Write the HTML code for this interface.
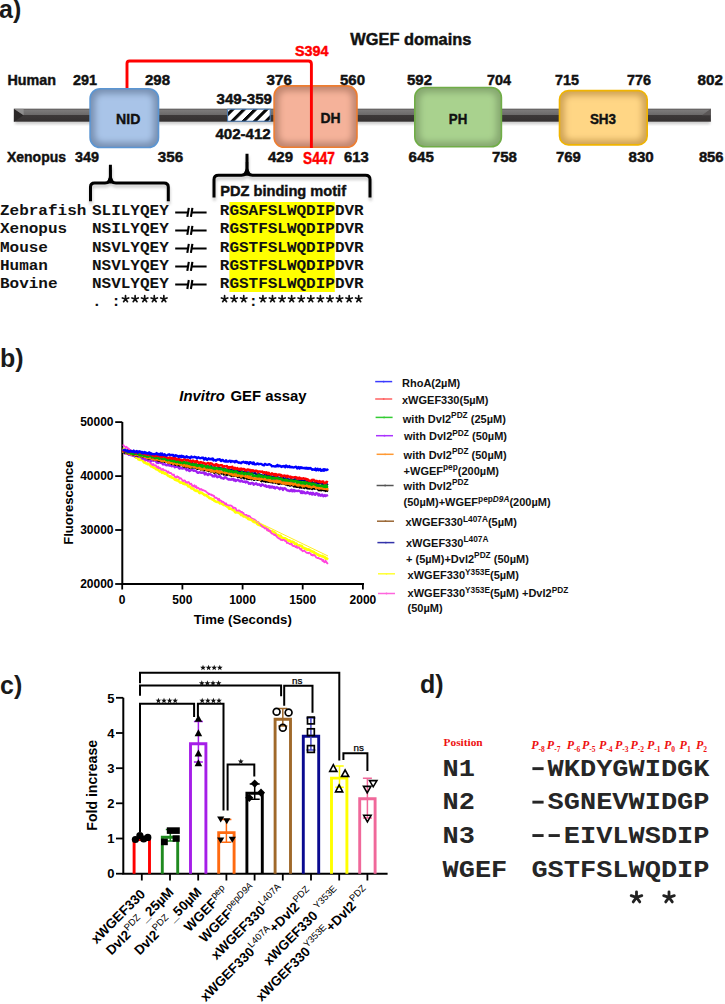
<!DOCTYPE html>
<html><head><meta charset="utf-8"><title>WGEF figure</title>
<style>html,body{margin:0;padding:0;background:#fff;overflow:hidden;}svg{display:block;}</style></head>
<body><svg width="725" height="1004" viewBox="0 0 725 1004">
<rect width="725" height="1004" fill="#fff"/>
<defs>
<linearGradient id="barg" x1="0" y1="0" x2="0" y2="1">
<stop offset="0" stop-color="#4a4747"/><stop offset="0.1" stop-color="#7c7a7a"/><stop offset="0.45" stop-color="#6c6a6a"/>
<stop offset="0.52" stop-color="#3c3838"/><stop offset="1" stop-color="#353131"/></linearGradient>
<filter id="blur3" x="-20%" y="-20%" width="140%" height="140%"><feGaussianBlur stdDeviation="3.2"/></filter>
<filter id="blur1" x="-20%" y="-50%" width="140%" height="200%"><feGaussianBlur stdDeviation="1.5"/></filter>
<pattern id="hatch" x="0.9" y="0" width="11.3" height="40" patternUnits="userSpaceOnUse" patternTransform="skewX(-45)">
<rect width="11.3" height="40" fill="#fff"/><rect width="4.4" height="40" fill="#0a0a0a"/></pattern>
</defs>
<rect x="15" y="120" width="695" height="4" fill="#bbb" filter="url(#blur1)" opacity="0.8"/>
<rect x="13.9" y="108.7" width="697" height="13" fill="url(#barg)"/>
<polygon points="13.9,108.7 23.6,115.3 13.9,121.7" fill="#2a2727"/>
<polygon points="13.9,108.7 23.6,115.3 23.6,108.7" fill="#9a9898" opacity="0.7"/>
<polygon points="710.9,108.7 702,115.3 710.9,115.3" fill="#5a5656"/>
<clipPath id="cp1"><rect x="90.10000000000001" y="88.7" width="68.39999999999999" height="58.800000000000004" rx="10"/></clipPath>
<g clip-path="url(#cp1)"><rect x="90.10000000000001" y="88.7" width="68.39999999999999" height="58.800000000000004" fill="#7890b2"/><rect x="95.10000000000001" y="93.7" width="58.39999999999999" height="48.800000000000004" rx="7" fill="#a9c4e8" filter="url(#blur3)"/></g>
<rect x="90.10000000000001" y="88.7" width="68.39999999999999" height="58.800000000000004" rx="10" fill="none" stroke="#5b95d2" stroke-width="1.6"/>
<rect x="227.6" y="109.2" width="42.6" height="12" fill="url(#hatch)" stroke="#4a7ebb" stroke-width="1"/>
<clipPath id="cp2"><rect x="274.09999999999997" y="85.9" width="82.89999999999999" height="61.4" rx="10"/></clipPath>
<g clip-path="url(#cp2)"><rect x="274.09999999999997" y="85.9" width="82.89999999999999" height="61.4" fill="#c08670"/><rect x="279.09999999999997" y="90.9" width="72.89999999999999" height="51.4" rx="7" fill="#f5b29a" filter="url(#blur3)"/></g>
<rect x="274.09999999999997" y="85.9" width="82.89999999999999" height="61.4" rx="10" fill="none" stroke="#ed7d31" stroke-width="1.6"/>
<clipPath id="cp3"><rect x="414.8" y="87.5" width="86.6" height="59.300000000000004" rx="10"/></clipPath>
<g clip-path="url(#cp3)"><rect x="414.8" y="87.5" width="86.6" height="59.300000000000004" fill="#86a870"/><rect x="419.8" y="92.5" width="76.6" height="49.300000000000004" rx="7" fill="#a9d28e" filter="url(#blur3)"/></g>
<rect x="414.8" y="87.5" width="86.6" height="59.300000000000004" rx="10" fill="none" stroke="#70ad47" stroke-width="1.6"/>
<clipPath id="cp4"><rect x="559.5" y="90.60000000000001" width="87.69999999999999" height="54.300000000000004" rx="9"/></clipPath>
<g clip-path="url(#cp4)"><rect x="559.5" y="90.60000000000001" width="87.69999999999999" height="54.300000000000004" fill="#cfa356"/><rect x="564.5" y="95.60000000000001" width="77.69999999999999" height="44.300000000000004" rx="6" fill="#ffd685" filter="url(#blur3)"/></g>
<rect x="559.5" y="90.60000000000001" width="87.69999999999999" height="54.300000000000004" rx="9" fill="none" stroke="#f0b400" stroke-width="1.6"/>
<path d="M127,88 L127,63.5 Q127,61 129.5,61 L308.5,61 Q311.4,61 311.4,64 L311.4,148" fill="none" stroke="#ff0000" stroke-width="2.9"/>
<text x="128.2" y="124.3" font-size="15" font-family="'Liberation Sans', sans-serif" font-weight="bold" fill="#111" text-anchor="middle" stroke="#111" stroke-width="0.4" textLength="24.3" lengthAdjust="spacingAndGlyphs">NID</text>
<text x="330.5" y="122.8" font-size="15" font-family="'Liberation Sans', sans-serif" font-weight="bold" fill="#111" text-anchor="middle" stroke="#111" stroke-width="0.4" textLength="20.1" lengthAdjust="spacingAndGlyphs">DH</text>
<text x="458" y="123.8" font-size="15" font-family="'Liberation Sans', sans-serif" font-weight="bold" fill="#111" text-anchor="middle" stroke="#111" stroke-width="0.4" textLength="18.5" lengthAdjust="spacingAndGlyphs">PH</text>
<text x="603" y="123.5" font-size="15" font-family="'Liberation Sans', sans-serif" font-weight="bold" fill="#111" text-anchor="middle" stroke="#111" stroke-width="0.4" textLength="26.2" lengthAdjust="spacingAndGlyphs">SH3</text>
<text x="350.3" y="44.7" font-size="16" font-family="'Liberation Sans', sans-serif" font-weight="bold" fill="#111" text-anchor="start" stroke="#111" stroke-width="0.45" textLength="121" lengthAdjust="spacingAndGlyphs">WGEF domains</text>
<text x="295" y="56.2" font-size="15.5" font-family="'Liberation Sans', sans-serif" font-weight="bold" fill="#ff0000" text-anchor="start" stroke="#ff0000" stroke-width="0.45" textLength="33.6" lengthAdjust="spacingAndGlyphs">S394</text>
<text x="303" y="164.2" font-size="16" font-family="'Liberation Sans', sans-serif" font-weight="bold" fill="#ff0000" text-anchor="start" stroke="#ff0000" stroke-width="0.45" textLength="32" lengthAdjust="spacingAndGlyphs">S447</text>
<text x="7.5" y="84.8" font-size="15" font-family="'Liberation Sans', sans-serif" font-weight="bold" fill="#111" text-anchor="start" stroke="#111" stroke-width="0.45" textLength="48.5" lengthAdjust="spacingAndGlyphs">Human</text>
<text x="73" y="84.8" font-size="15" font-family="'Liberation Sans', sans-serif" font-weight="bold" fill="#111" text-anchor="start" stroke="#111" stroke-width="0.45" textLength="24" lengthAdjust="spacingAndGlyphs">291</text>
<text x="145" y="84.8" font-size="15" font-family="'Liberation Sans', sans-serif" font-weight="bold" fill="#111" text-anchor="start" stroke="#111" stroke-width="0.45" textLength="25" lengthAdjust="spacingAndGlyphs">298</text>
<text x="266.6" y="84.8" font-size="15" font-family="'Liberation Sans', sans-serif" font-weight="bold" fill="#111" text-anchor="start" stroke="#111" stroke-width="0.45" textLength="25.399999999999977" lengthAdjust="spacingAndGlyphs">376</text>
<text x="340" y="84.8" font-size="15" font-family="'Liberation Sans', sans-serif" font-weight="bold" fill="#111" text-anchor="start" stroke="#111" stroke-width="0.45" textLength="25" lengthAdjust="spacingAndGlyphs">560</text>
<text x="407" y="84.8" font-size="15" font-family="'Liberation Sans', sans-serif" font-weight="bold" fill="#111" text-anchor="start" stroke="#111" stroke-width="0.45" textLength="25" lengthAdjust="spacingAndGlyphs">592</text>
<text x="487" y="84.8" font-size="15" font-family="'Liberation Sans', sans-serif" font-weight="bold" fill="#111" text-anchor="start" stroke="#111" stroke-width="0.45" textLength="24" lengthAdjust="spacingAndGlyphs">704</text>
<text x="555" y="84.8" font-size="15" font-family="'Liberation Sans', sans-serif" font-weight="bold" fill="#111" text-anchor="start" stroke="#111" stroke-width="0.45" textLength="24" lengthAdjust="spacingAndGlyphs">715</text>
<text x="627" y="84.8" font-size="15" font-family="'Liberation Sans', sans-serif" font-weight="bold" fill="#111" text-anchor="start" stroke="#111" stroke-width="0.45" textLength="24" lengthAdjust="spacingAndGlyphs">776</text>
<text x="697.6" y="84.8" font-size="15" font-family="'Liberation Sans', sans-serif" font-weight="bold" fill="#111" text-anchor="start" stroke="#111" stroke-width="0.45" textLength="25.399999999999977" lengthAdjust="spacingAndGlyphs">802</text>
<text x="7" y="161.8" font-size="15" font-family="'Liberation Sans', sans-serif" font-weight="bold" fill="#111" text-anchor="start" stroke="#111" stroke-width="0.45" textLength="59" lengthAdjust="spacingAndGlyphs">Xenopus</text>
<text x="75" y="161.8" font-size="15" font-family="'Liberation Sans', sans-serif" font-weight="bold" fill="#111" text-anchor="start" stroke="#111" stroke-width="0.45" textLength="24" lengthAdjust="spacingAndGlyphs">349</text>
<text x="157.8" y="161.8" font-size="15" font-family="'Liberation Sans', sans-serif" font-weight="bold" fill="#111" text-anchor="start" stroke="#111" stroke-width="0.45" textLength="25.399999999999977" lengthAdjust="spacingAndGlyphs">356</text>
<text x="268" y="161.8" font-size="15" font-family="'Liberation Sans', sans-serif" font-weight="bold" fill="#111" text-anchor="start" stroke="#111" stroke-width="0.45" textLength="25" lengthAdjust="spacingAndGlyphs">429</text>
<text x="344" y="161.8" font-size="15" font-family="'Liberation Sans', sans-serif" font-weight="bold" fill="#111" text-anchor="start" stroke="#111" stroke-width="0.45" textLength="24.69999999999999" lengthAdjust="spacingAndGlyphs">613</text>
<text x="408.6" y="161.8" font-size="15" font-family="'Liberation Sans', sans-serif" font-weight="bold" fill="#111" text-anchor="start" stroke="#111" stroke-width="0.45" textLength="25.19999999999999" lengthAdjust="spacingAndGlyphs">645</text>
<text x="491.9" y="161.8" font-size="15" font-family="'Liberation Sans', sans-serif" font-weight="bold" fill="#111" text-anchor="start" stroke="#111" stroke-width="0.45" textLength="25.100000000000023" lengthAdjust="spacingAndGlyphs">758</text>
<text x="556" y="161.8" font-size="15" font-family="'Liberation Sans', sans-serif" font-weight="bold" fill="#111" text-anchor="start" stroke="#111" stroke-width="0.45" textLength="24.899999999999977" lengthAdjust="spacingAndGlyphs">769</text>
<text x="628.5" y="161.8" font-size="15" font-family="'Liberation Sans', sans-serif" font-weight="bold" fill="#111" text-anchor="start" stroke="#111" stroke-width="0.45" textLength="25.200000000000045" lengthAdjust="spacingAndGlyphs">830</text>
<text x="698.9" y="161.8" font-size="15" font-family="'Liberation Sans', sans-serif" font-weight="bold" fill="#111" text-anchor="start" stroke="#111" stroke-width="0.45" textLength="24.700000000000045" lengthAdjust="spacingAndGlyphs">856</text>
<text x="216.5" y="104" font-size="15" font-family="'Liberation Sans', sans-serif" font-weight="bold" fill="#111" text-anchor="start" stroke="#111" stroke-width="0.45" textLength="55.5" lengthAdjust="spacingAndGlyphs">349-359</text>
<text x="215.4" y="139" font-size="15" font-family="'Liberation Sans', sans-serif" font-weight="bold" fill="#111" text-anchor="start" stroke="#111" stroke-width="0.45" textLength="55.3" lengthAdjust="spacingAndGlyphs">402-412</text>
<filter id="bshadow" x="-10%" y="-30%" width="120%" height="160%"><feGaussianBlur stdDeviation="1.6"/></filter>
<path d="M90.5,201.2 L90.5,187 Q90.5,183 94.5,183 L105,183 Q110.4,183 110.4,176 L110.4,164.7 L110.4,176 Q110.4,183 116,183 L164,183 Q168.3,183 168.3,187 L168.3,201.2" transform="translate(0.5,3)" fill="none" stroke="#999" stroke-width="3" opacity="0.55" filter="url(#bshadow)"/>
<path d="M90.5,201.2 L90.5,187 Q90.5,183 94.5,183 L105,183 Q110.4,183 110.4,176 L110.4,164.7 L110.4,176 Q110.4,183 116,183 L164,183 Q168.3,183 168.3,187 L168.3,201.2" fill="none" stroke="#000" stroke-width="3"/>
<path d="M214,197.5 L214,179.5 Q214,175.2 218.5,175.2 L241.5,175.2 Q247,175.2 247,168 L247,153.7 L247,168 Q247,175.2 252.5,175.2 L365.5,175.2 Q370,175.2 370,179.5 L370,197.5" transform="translate(0.5,3)" fill="none" stroke="#999" stroke-width="3" opacity="0.55" filter="url(#bshadow)"/>
<path d="M214,197.5 L214,179.5 Q214,175.2 218.5,175.2 L241.5,175.2 Q247,175.2 247,168 L247,153.7 L247,168 Q247,175.2 252.5,175.2 L365.5,175.2 Q370,175.2 370,179.5 L370,197.5" fill="none" stroke="#000" stroke-width="3"/>
<polygon points="106.5,183.5 109.2,177 109.2,170 111.6,170 111.6,177 114.3,183.5" fill="#000"/>
<polygon points="243,175.7 245.8,169 245.8,162 248.2,162 248.2,169 251,175.7" fill="#000"/>
<text x="220.3" y="196.4" font-size="15" font-family="'Liberation Sans', sans-serif" font-weight="bold" fill="#111" text-anchor="start" stroke="#111" stroke-width="0.45" textLength="125.7" lengthAdjust="spacingAndGlyphs">PDZ binding motif</text>
<rect x="229.4" y="202" width="105.4" height="90" fill="#ffff00"/>
<text transform="translate(0,215.4) scale(1,0.86)" x="0" y="0" font-size="16" font-family="'Liberation Mono', monospace" font-weight="bold" fill="#111" text-anchor="start">Zebrafish</text>
<text transform="translate(92,215.4) scale(1,0.86)" x="0" y="0" font-size="16" font-family="'Liberation Mono', monospace" font-weight="bold" fill="#111" text-anchor="start">SLILYQEY</text>
<text transform="translate(219.8,215.4) scale(1,0.86)" x="0" y="0" font-size="16" font-family="'Liberation Mono', monospace" font-weight="bold" fill="#111" text-anchor="start">RGSAFSLWQDIPDVR</text>
<path d="M175.2,212.4 L188.3,212.4 M191.6,212.4 L206.6,212.4" stroke="#000" stroke-width="2"/>
<line x1="187.3" y1="216.8" x2="188.8" y2="207.8" stroke="#000" stroke-width="2.1"/>
<line x1="190.9" y1="216.8" x2="192.4" y2="207.8" stroke="#000" stroke-width="2.1"/>
<text transform="translate(0,233.45000000000002) scale(1,0.86)" x="0" y="0" font-size="16" font-family="'Liberation Mono', monospace" font-weight="bold" fill="#111" text-anchor="start">Xenopus</text>
<text transform="translate(92,233.45000000000002) scale(1,0.86)" x="0" y="0" font-size="16" font-family="'Liberation Mono', monospace" font-weight="bold" fill="#111" text-anchor="start">NSILYQEY</text>
<text transform="translate(219.8,233.45000000000002) scale(1,0.86)" x="0" y="0" font-size="16" font-family="'Liberation Mono', monospace" font-weight="bold" fill="#111" text-anchor="start">RGSTFSLWQDIPDVR</text>
<path d="M175.2,230.45000000000002 L188.3,230.45000000000002 M191.6,230.45000000000002 L206.6,230.45000000000002" stroke="#000" stroke-width="2"/>
<line x1="187.3" y1="234.85000000000002" x2="188.8" y2="225.85000000000002" stroke="#000" stroke-width="2.1"/>
<line x1="190.9" y1="234.85000000000002" x2="192.4" y2="225.85000000000002" stroke="#000" stroke-width="2.1"/>
<text transform="translate(0,251.5) scale(1,0.86)" x="0" y="0" font-size="16" font-family="'Liberation Mono', monospace" font-weight="bold" fill="#111" text-anchor="start">Mouse</text>
<text transform="translate(92,251.5) scale(1,0.86)" x="0" y="0" font-size="16" font-family="'Liberation Mono', monospace" font-weight="bold" fill="#111" text-anchor="start">NSVLYQEY</text>
<text transform="translate(219.8,251.5) scale(1,0.86)" x="0" y="0" font-size="16" font-family="'Liberation Mono', monospace" font-weight="bold" fill="#111" text-anchor="start">RGSTFSLWQDIPDVR</text>
<path d="M175.2,248.5 L188.3,248.5 M191.6,248.5 L206.6,248.5" stroke="#000" stroke-width="2"/>
<line x1="187.3" y1="252.9" x2="188.8" y2="243.9" stroke="#000" stroke-width="2.1"/>
<line x1="190.9" y1="252.9" x2="192.4" y2="243.9" stroke="#000" stroke-width="2.1"/>
<text transform="translate(0,269.55) scale(1,0.86)" x="0" y="0" font-size="16" font-family="'Liberation Mono', monospace" font-weight="bold" fill="#111" text-anchor="start">Human</text>
<text transform="translate(92,269.55) scale(1,0.86)" x="0" y="0" font-size="16" font-family="'Liberation Mono', monospace" font-weight="bold" fill="#111" text-anchor="start">NSVLYQEY</text>
<text transform="translate(219.8,269.55) scale(1,0.86)" x="0" y="0" font-size="16" font-family="'Liberation Mono', monospace" font-weight="bold" fill="#111" text-anchor="start">RGSTFSLWQDIPDVR</text>
<path d="M175.2,266.55 L188.3,266.55 M191.6,266.55 L206.6,266.55" stroke="#000" stroke-width="2"/>
<line x1="187.3" y1="270.95" x2="188.8" y2="261.95" stroke="#000" stroke-width="2.1"/>
<line x1="190.9" y1="270.95" x2="192.4" y2="261.95" stroke="#000" stroke-width="2.1"/>
<text transform="translate(0,287.6) scale(1,0.86)" x="0" y="0" font-size="16" font-family="'Liberation Mono', monospace" font-weight="bold" fill="#111" text-anchor="start">Bovine</text>
<text transform="translate(92,287.6) scale(1,0.86)" x="0" y="0" font-size="16" font-family="'Liberation Mono', monospace" font-weight="bold" fill="#111" text-anchor="start">NSVLYQEY</text>
<text transform="translate(219.8,287.6) scale(1,0.86)" x="0" y="0" font-size="16" font-family="'Liberation Mono', monospace" font-weight="bold" fill="#111" text-anchor="start">RGSTFSLWQDIPDVR</text>
<path d="M175.2,284.6 L188.3,284.6 M191.6,284.6 L206.6,284.6" stroke="#000" stroke-width="2"/>
<line x1="187.3" y1="289.0" x2="188.8" y2="280.0" stroke="#000" stroke-width="2.1"/>
<line x1="190.9" y1="289.0" x2="192.4" y2="280.0" stroke="#000" stroke-width="2.1"/>
<text transform="translate(92,306) scale(1,0.86)" x="0" y="0" font-size="16" font-family="'Liberation Mono', monospace" font-weight="bold" fill="#111" text-anchor="start" xml:space="preserve">. :     </text>
<text transform="translate(219.8,306) scale(1,0.86)" x="0" y="0" font-size="16" font-family="'Liberation Mono', monospace" font-weight="bold" fill="#111" text-anchor="start" xml:space="preserve">   :           </text>
<path d="M125.53,299.00 L125.53,295.70 M125.53,299.00 L128.67,297.98 M125.53,299.00 L127.47,301.67 M125.53,299.00 L123.59,301.67 M125.53,299.00 L122.39,297.98 " stroke="#111" stroke-width="1.7" stroke-linecap="round" fill="none"/>
<path d="M135.11,299.00 L135.11,295.70 M135.11,299.00 L138.25,297.98 M135.11,299.00 L137.05,301.67 M135.11,299.00 L133.17,301.67 M135.11,299.00 L131.97,297.98 " stroke="#111" stroke-width="1.7" stroke-linecap="round" fill="none"/>
<path d="M144.69,299.00 L144.69,295.70 M144.69,299.00 L147.83,297.98 M144.69,299.00 L146.63,301.67 M144.69,299.00 L142.75,301.67 M144.69,299.00 L141.55,297.98 " stroke="#111" stroke-width="1.7" stroke-linecap="round" fill="none"/>
<path d="M154.27,299.00 L154.27,295.70 M154.27,299.00 L157.41,297.98 M154.27,299.00 L156.21,301.67 M154.27,299.00 L152.33,301.67 M154.27,299.00 L151.13,297.98 " stroke="#111" stroke-width="1.7" stroke-linecap="round" fill="none"/>
<path d="M163.85,299.00 L163.85,295.70 M163.85,299.00 L166.99,297.98 M163.85,299.00 L165.79,301.67 M163.85,299.00 L161.91,301.67 M163.85,299.00 L160.71,297.98 " stroke="#111" stroke-width="1.7" stroke-linecap="round" fill="none"/>
<path d="M224.59,299.00 L224.59,295.70 M224.59,299.00 L227.73,297.98 M224.59,299.00 L226.53,301.67 M224.59,299.00 L222.65,301.67 M224.59,299.00 L221.45,297.98 " stroke="#111" stroke-width="1.7" stroke-linecap="round" fill="none"/>
<path d="M234.17,299.00 L234.17,295.70 M234.17,299.00 L237.31,297.98 M234.17,299.00 L236.11,301.67 M234.17,299.00 L232.23,301.67 M234.17,299.00 L231.03,297.98 " stroke="#111" stroke-width="1.7" stroke-linecap="round" fill="none"/>
<path d="M243.75,299.00 L243.75,295.70 M243.75,299.00 L246.89,297.98 M243.75,299.00 L245.69,301.67 M243.75,299.00 L241.81,301.67 M243.75,299.00 L240.61,297.98 " stroke="#111" stroke-width="1.7" stroke-linecap="round" fill="none"/>
<path d="M262.91,299.00 L262.91,295.70 M262.91,299.00 L266.05,297.98 M262.91,299.00 L264.85,301.67 M262.91,299.00 L260.97,301.67 M262.91,299.00 L259.77,297.98 " stroke="#111" stroke-width="1.7" stroke-linecap="round" fill="none"/>
<path d="M272.49,299.00 L272.49,295.70 M272.49,299.00 L275.63,297.98 M272.49,299.00 L274.43,301.67 M272.49,299.00 L270.55,301.67 M272.49,299.00 L269.35,297.98 " stroke="#111" stroke-width="1.7" stroke-linecap="round" fill="none"/>
<path d="M282.07,299.00 L282.07,295.70 M282.07,299.00 L285.21,297.98 M282.07,299.00 L284.01,301.67 M282.07,299.00 L280.13,301.67 M282.07,299.00 L278.93,297.98 " stroke="#111" stroke-width="1.7" stroke-linecap="round" fill="none"/>
<path d="M291.65,299.00 L291.65,295.70 M291.65,299.00 L294.79,297.98 M291.65,299.00 L293.59,301.67 M291.65,299.00 L289.71,301.67 M291.65,299.00 L288.51,297.98 " stroke="#111" stroke-width="1.7" stroke-linecap="round" fill="none"/>
<path d="M301.23,299.00 L301.23,295.70 M301.23,299.00 L304.37,297.98 M301.23,299.00 L303.17,301.67 M301.23,299.00 L299.29,301.67 M301.23,299.00 L298.09,297.98 " stroke="#111" stroke-width="1.7" stroke-linecap="round" fill="none"/>
<path d="M310.81,299.00 L310.81,295.70 M310.81,299.00 L313.95,297.98 M310.81,299.00 L312.75,301.67 M310.81,299.00 L308.87,301.67 M310.81,299.00 L307.67,297.98 " stroke="#111" stroke-width="1.7" stroke-linecap="round" fill="none"/>
<path d="M320.39,299.00 L320.39,295.70 M320.39,299.00 L323.53,297.98 M320.39,299.00 L322.33,301.67 M320.39,299.00 L318.45,301.67 M320.39,299.00 L317.25,297.98 " stroke="#111" stroke-width="1.7" stroke-linecap="round" fill="none"/>
<path d="M329.97,299.00 L329.97,295.70 M329.97,299.00 L333.11,297.98 M329.97,299.00 L331.91,301.67 M329.97,299.00 L328.03,301.67 M329.97,299.00 L326.83,297.98 " stroke="#111" stroke-width="1.7" stroke-linecap="round" fill="none"/>
<path d="M339.55,299.00 L339.55,295.70 M339.55,299.00 L342.69,297.98 M339.55,299.00 L341.49,301.67 M339.55,299.00 L337.61,301.67 M339.55,299.00 L336.41,297.98 " stroke="#111" stroke-width="1.7" stroke-linecap="round" fill="none"/>
<path d="M349.13,299.00 L349.13,295.70 M349.13,299.00 L352.27,297.98 M349.13,299.00 L351.07,301.67 M349.13,299.00 L347.19,301.67 M349.13,299.00 L345.99,297.98 " stroke="#111" stroke-width="1.7" stroke-linecap="round" fill="none"/>
<path d="M358.71,299.00 L358.71,295.70 M358.71,299.00 L361.85,297.98 M358.71,299.00 L360.65,301.67 M358.71,299.00 L356.77,301.67 M358.71,299.00 L355.57,297.98 " stroke="#111" stroke-width="1.7" stroke-linecap="round" fill="none"/>
<text x="-1" y="18.2" font-size="25" font-family="'Liberation Sans', sans-serif" font-weight="bold" fill="#1a1a1a" text-anchor="start">a)</text>
<text x="0" y="367" font-size="25" font-family="'Liberation Sans', sans-serif" font-weight="bold" fill="#1a1a1a" text-anchor="start">b)</text>
<text x="0" y="693.5" font-size="25" font-family="'Liberation Sans', sans-serif" font-weight="bold" fill="#1a1a1a" text-anchor="start">c)</text>
<text x="420" y="692.8" font-size="25" font-family="'Liberation Sans', sans-serif" font-weight="bold" fill="#1a1a1a" text-anchor="start">d)</text>
<text x="179.3" y="401.3" font-size="15" font-family="'Liberation Sans', sans-serif" font-weight="bold" fill="#000" text-anchor="start" textLength="45.5" lengthAdjust="spacingAndGlyphs" font-style="italic">Invitro</text>
<text x="230.4" y="401.3" font-size="15" font-family="'Liberation Sans', sans-serif" font-weight="bold" fill="#000" text-anchor="start" textLength="76.2" lengthAdjust="spacingAndGlyphs">GEF assay</text>
<path d="M122.3,422.1 L122.3,584 L364,584" fill="none" stroke="#000" stroke-width="2"/>
<line x1="115.2" y1="584.0" x2="122.3" y2="584.0" stroke="#000" stroke-width="1.8"/>
<text x="113.5" y="588.3" font-size="12" font-family="'Liberation Sans', sans-serif" font-weight="bold" fill="#000" text-anchor="end">20000</text>
<line x1="115.2" y1="530.0" x2="122.3" y2="530.0" stroke="#000" stroke-width="1.8"/>
<text x="113.5" y="534.3299999999999" font-size="12" font-family="'Liberation Sans', sans-serif" font-weight="bold" fill="#000" text-anchor="end">30000</text>
<line x1="115.2" y1="476.1" x2="122.3" y2="476.1" stroke="#000" stroke-width="1.8"/>
<text x="113.5" y="480.36" font-size="12" font-family="'Liberation Sans', sans-serif" font-weight="bold" fill="#000" text-anchor="end">40000</text>
<line x1="115.2" y1="422.1" x2="122.3" y2="422.1" stroke="#000" stroke-width="1.8"/>
<text x="113.5" y="426.39000000000004" font-size="12" font-family="'Liberation Sans', sans-serif" font-weight="bold" fill="#000" text-anchor="end">50000</text>
<line x1="122.2" y1="584" x2="122.2" y2="589.5" stroke="#000" stroke-width="1.8"/>
<text x="122.2" y="604.4" font-size="12" font-family="'Liberation Sans', sans-serif" font-weight="bold" fill="#000" text-anchor="middle">0</text>
<line x1="182.4" y1="584" x2="182.4" y2="589.5" stroke="#000" stroke-width="1.8"/>
<text x="182.375" y="604.4" font-size="12" font-family="'Liberation Sans', sans-serif" font-weight="bold" fill="#000" text-anchor="middle">500</text>
<line x1="242.6" y1="584" x2="242.6" y2="589.5" stroke="#000" stroke-width="1.8"/>
<text x="242.55" y="604.4" font-size="12" font-family="'Liberation Sans', sans-serif" font-weight="bold" fill="#000" text-anchor="middle">1000</text>
<line x1="302.7" y1="584" x2="302.7" y2="589.5" stroke="#000" stroke-width="1.8"/>
<text x="302.725" y="604.4" font-size="12" font-family="'Liberation Sans', sans-serif" font-weight="bold" fill="#000" text-anchor="middle">1500</text>
<line x1="362.9" y1="584" x2="362.9" y2="589.5" stroke="#000" stroke-width="1.8"/>
<text x="362.9" y="604.4" font-size="12" font-family="'Liberation Sans', sans-serif" font-weight="bold" fill="#000" text-anchor="middle">2000</text>
<text x="193.8" y="624.3" font-size="13" font-family="'Liberation Sans', sans-serif" font-weight="bold" fill="#000" text-anchor="start" textLength="98" lengthAdjust="spacingAndGlyphs">Time (Seconds)</text>
<text transform="translate(72.8,502.6) rotate(-90)" x="0" y="0" font-size="13" font-family="'Liberation Sans', sans-serif" font-weight="bold" text-anchor="middle" textLength="84.4" lengthAdjust="spacingAndGlyphs">Fluorescence</text>
<polyline points="122.6,448.7 123.4,448.9 124.2,450.2 125.0,449.7 125.8,451.0 126.5,451.2 127.3,451.1 128.1,452.3 128.9,452.1 129.7,453.2 130.5,453.1 131.3,453.6 132.1,454.6 132.9,455.7 133.7,455.1 134.4,455.7 135.2,456.8 136.0,457.8 136.8,457.7 137.6,457.9 138.4,459.3 139.2,458.3 140.0,460.0 140.8,459.6 141.6,459.8 142.3,460.3 143.1,461.1 143.9,462.4 144.7,461.8 145.5,462.9 146.3,463.5 147.1,463.5 147.9,464.3 148.7,464.0 149.5,464.5 150.2,465.2 151.0,466.4 151.8,466.4 152.6,466.6 153.4,467.5 154.2,467.7 155.0,467.9 155.8,469.1 156.6,469.4 157.4,469.1 158.1,470.0 158.9,470.4 159.7,471.4 160.5,471.5 161.3,471.3 162.1,472.8 162.9,471.8 163.7,472.8 164.5,473.7 165.3,473.2 166.1,474.1 166.8,473.9 167.6,475.3 168.4,475.9 169.2,476.0 170.0,476.9 170.8,476.4 171.6,477.5 172.4,477.7 173.2,478.1 173.9,478.4 174.7,479.4 175.5,480.0 176.3,479.7 177.1,480.4 177.9,479.9 178.7,481.3 179.5,481.7 180.3,482.6 181.1,482.8 181.8,482.4 182.6,482.9 183.4,483.8 184.2,483.2 185.0,484.3 185.8,484.3 186.6,484.6 187.4,485.0 188.2,486.5 189.0,485.9 189.8,486.6 190.5,487.2 191.3,488.4 192.1,487.6 192.9,488.6 193.7,489.2 194.5,490.1 195.3,490.5 196.1,491.0 196.9,490.4 197.6,491.1 198.4,491.4 199.2,492.7 200.0,493.2 200.8,492.4 201.6,492.8 202.4,493.4 203.2,493.8 204.0,494.6 204.8,495.2 205.6,495.1 206.3,495.1 207.1,496.2 207.9,496.6 208.7,497.3 209.5,498.3 210.3,498.3 211.1,498.5 211.9,499.1 212.7,499.6 213.4,499.0 214.2,500.8 215.0,501.0 215.8,501.6 216.6,501.9 217.4,501.7 218.2,502.1 219.0,502.1 219.8,503.3 220.6,502.8 221.3,503.3 222.1,503.9 222.9,504.3 223.7,505.0 224.5,504.9 225.3,505.3 226.1,505.9 226.9,506.3 227.7,507.1 228.5,507.0 229.2,508.8 230.0,508.8 230.8,508.5 231.6,509.1 232.4,509.6 233.2,510.1 234.0,510.1 234.8,511.7 235.6,512.4 236.4,511.9 237.1,512.4 237.9,512.2 238.7,512.6 239.5,513.4 240.3,513.7 241.1,515.1 241.9,514.4 242.7,514.6 243.5,516.5 244.3,516.3 245.1,516.1 245.8,517.1 246.6,516.7 247.4,518.0 248.2,519.1 249.0,519.3 249.8,519.5 250.6,519.2 251.4,519.9 252.2,520.0 252.9,521.4 253.7,521.4 254.5,522.3 255.3,522.0 256.1,522.3 256.9,523.6 257.7,524.4 258.5,524.6 259.3,525.0 260.1,525.4 260.9,525.7 261.6,525.4 262.4,526.3 263.2,526.4 264.0,526.4 264.8,526.8 265.6,527.6 266.4,528.1 267.2,529.2 268.0,530.1 268.8,529.7 269.5,530.9 270.3,531.4 271.1,531.8 271.9,531.3 272.7,531.5 273.5,532.0 274.3,532.4 275.1,532.8 275.9,533.9 276.6,534.8 277.4,535.2 278.2,535.0 279.0,535.7 279.8,536.4 280.6,535.7 281.4,537.0 282.2,537.8 283.0,538.0 283.8,538.3 284.5,538.3 285.3,538.2 286.1,539.5 286.9,539.2 287.7,540.3 288.5,541.0 289.3,540.4 290.1,540.8 290.9,542.1 291.7,542.1 292.4,541.6 293.2,541.9 294.0,542.3 294.8,543.9 295.6,544.1 296.4,543.5 297.2,544.9 298.0,545.6 298.8,545.4 299.6,545.3 300.4,546.0 301.1,545.7 301.9,545.9 302.7,547.8 303.5,547.7 304.3,547.9 305.1,548.9 305.9,548.5 306.7,549.6 307.5,549.9 308.2,549.3 309.0,549.7 309.8,550.2 310.6,550.5 311.4,551.4 312.2,551.3 313.0,551.9 313.8,551.8 314.6,553.5 315.4,553.0 316.1,553.5 316.9,554.1 317.7,555.0 318.5,554.6 319.3,555.8 320.1,555.5 320.9,555.9 321.7,556.3 322.5,555.9 323.3,556.9 324.0,556.9 324.8,557.0 325.6,558.6 326.4,558.0 327.2,558.9 328.0,559.7" fill="none" stroke="#ffff00" stroke-width="2.6" stroke-linejoin="round"/>
<polyline points="122.6,445.1 123.4,445.2 124.2,446.1 125.0,446.7 125.8,447.6 126.5,446.8 127.3,448.2 128.1,448.1 128.9,448.7 129.7,450.2 130.5,450.1 131.3,450.8 132.1,451.7 132.9,452.5 133.7,452.1 134.4,452.9 135.2,453.2 136.0,453.7 136.8,454.6 137.6,454.7 138.4,455.3 139.2,455.7 140.0,457.2 140.8,457.2 141.6,458.1 142.3,458.7 143.1,457.9 143.9,459.0 144.7,460.3 145.5,460.6 146.3,459.7 147.1,460.2 147.9,461.3 148.7,461.1 149.5,461.9 150.2,462.1 151.0,463.7 151.8,464.3 152.6,465.0 153.4,463.9 154.2,465.4 155.0,465.7 155.8,465.1 156.6,467.0 157.4,467.6 158.1,466.5 158.9,468.4 159.7,467.7 160.5,468.3 161.3,469.7 162.1,469.8 162.9,468.9 163.7,469.9 164.5,470.4 165.3,470.5 166.1,470.6 166.8,471.3 167.6,472.5 168.4,471.5 169.2,473.0 170.0,473.2 170.8,472.8 171.6,473.8 172.4,474.8 173.2,475.0 173.9,474.5 174.7,476.8 175.5,476.8 176.3,477.6 177.1,476.3 177.9,477.0 178.7,477.0 179.5,478.8 180.3,478.2 181.1,478.4 181.8,479.4 182.6,480.8 183.4,481.0 184.2,480.3 185.0,480.5 185.8,482.4 186.6,482.2 187.4,482.8 188.2,482.0 189.0,482.4 189.8,484.1 190.5,484.0 191.3,483.7 192.1,485.8 192.9,485.6 193.7,486.4 194.5,485.3 195.3,487.3 196.1,486.1 196.9,488.1 197.6,487.7 198.4,487.9 199.2,488.8 200.0,489.9 200.8,489.0 201.6,489.2 202.4,490.4 203.2,490.2 204.0,490.4 204.8,490.9 205.6,491.1 206.3,491.9 207.1,492.5 207.9,493.0 208.7,494.3 209.5,493.8 210.3,494.7 211.1,494.5 211.9,495.3 212.7,495.1 213.4,496.0 214.2,496.0 215.0,497.8 215.8,497.9 216.6,497.7 217.4,498.7 218.2,500.0 219.0,498.8 219.8,500.7 220.6,500.4 221.3,501.0 222.1,502.1 222.9,501.6 223.7,502.3 224.5,503.1 225.3,504.2 226.1,503.3 226.9,504.8 227.7,505.0 228.5,505.3 229.2,505.3 230.0,505.6 230.8,505.4 231.6,506.0 232.4,506.4 233.2,508.2 234.0,507.6 234.8,507.9 235.6,508.2 236.4,510.2 237.1,510.7 237.9,510.7 238.7,510.4 239.5,510.7 240.3,511.3 241.1,512.1 241.9,511.9 242.7,512.9 243.5,513.0 244.3,514.9 245.1,515.3 245.8,514.9 246.6,514.8 247.4,516.7 248.2,515.8 249.0,516.3 249.8,516.1 250.6,517.4 251.4,518.1 252.2,518.7 252.9,518.7 253.7,519.9 254.5,519.4 255.3,520.5 256.1,520.7 256.9,521.9 257.7,521.8 258.5,522.3 259.3,523.4 260.1,523.8 260.9,525.1 261.6,525.6 262.4,526.6 263.2,526.9 264.0,527.6 264.8,528.5 265.6,528.1 266.4,528.5 267.2,530.4 268.0,529.3 268.8,531.0 269.5,531.4 270.3,530.8 271.1,532.9 271.9,533.6 272.7,533.6 273.5,534.4 274.3,535.1 275.1,534.4 275.9,535.7 276.6,536.2 277.4,537.4 278.2,537.9 279.0,538.5 279.8,538.6 280.6,539.8 281.4,539.9 282.2,540.3 283.0,539.8 283.8,539.8 284.5,540.4 285.3,541.2 286.1,541.1 286.9,543.0 287.7,542.8 288.5,543.3 289.3,543.7 290.1,544.2 290.9,544.3 291.7,543.7 292.4,545.7 293.2,546.0 294.0,545.9 294.8,546.3 295.6,547.0 296.4,546.2 297.2,547.9 298.0,547.4 298.8,547.4 299.6,548.2 300.4,549.5 301.1,548.9 301.9,550.3 302.7,551.2 303.5,550.6 304.3,550.8 305.1,551.4 305.9,552.2 306.7,552.8 307.5,552.9 308.2,553.3 309.0,552.6 309.8,553.1 310.6,553.7 311.4,555.1 312.2,554.6 313.0,555.6 313.8,554.9 314.6,555.3 315.4,556.2 316.1,557.4 316.9,557.8 317.7,558.2 318.5,557.8 319.3,558.7 320.1,558.9 320.9,559.3 321.7,559.1 322.5,561.0 323.3,560.0 324.0,562.0 324.8,562.3 325.6,560.8 326.4,562.1 327.2,563.2 328.0,563.9" fill="none" stroke="#ff44dd" stroke-width="1.8" stroke-linejoin="round"/>
<polyline points="122.6,451.9 123.4,451.8 124.2,451.9 125.0,453.6 125.8,452.4 126.5,453.4 127.3,452.7 128.1,453.7 128.9,454.8 129.7,453.4 130.5,455.0 131.3,454.6 132.1,455.6 132.9,455.5 133.7,454.8 134.4,456.3 135.2,455.7 136.0,455.0 136.8,455.2 137.6,456.4 138.4,456.6 139.2,456.5 140.0,456.4 140.8,457.0 141.6,457.2 142.3,458.5 143.1,457.0 143.9,458.7 144.7,459.1 145.5,457.9 146.3,459.8 147.1,459.6 147.9,460.2 148.7,459.2 149.5,459.5 150.2,459.8 151.0,461.2 151.8,460.6 152.6,460.4 153.4,460.7 154.2,460.6 155.0,460.4 155.8,460.7 156.6,462.4 157.4,461.5 158.1,463.0 158.9,461.9 159.7,462.1 160.5,462.8 161.3,462.4 162.1,462.9 162.9,464.3 163.7,464.4 164.5,464.4 165.3,464.3 166.1,465.1 166.8,465.3 167.6,464.7 168.4,465.3 169.2,464.1 170.0,465.7 170.8,465.4 171.6,466.2 172.4,466.1 173.2,465.6 173.9,465.4 174.7,467.3 175.5,465.9 176.3,466.8 177.1,466.7 177.9,466.8 178.7,467.9 179.5,468.6 180.3,467.4 181.1,468.3 181.8,467.8 182.6,468.5 183.4,468.4 184.2,468.1 185.0,468.3 185.8,468.6 186.6,470.2 187.4,469.6 188.2,469.2 189.0,470.8 189.8,471.1 190.5,470.2 191.3,469.8 192.1,470.1 192.9,470.1 193.7,470.8 194.5,470.4 195.3,470.9 196.1,471.1 196.9,471.9 197.6,472.8 198.4,472.7 199.2,472.2 200.0,472.4 200.8,472.8 201.6,472.7 202.4,472.8 203.2,472.4 204.0,473.0 204.8,474.5 205.6,473.0 206.3,474.0 207.1,474.4 207.9,475.0 208.7,473.9 209.5,474.2 210.3,474.3 211.1,474.8 211.9,475.1 212.7,476.3 213.4,476.2 214.2,476.5 215.0,474.9 215.8,475.1 216.6,476.6 217.4,477.2 218.2,476.5 219.0,476.9 219.8,475.9 220.6,476.9 221.3,478.1 222.1,478.1 222.9,478.3 223.7,478.7 224.5,477.4 225.3,477.3 226.1,477.6 226.9,478.5 227.7,478.9 228.5,479.6 229.2,479.3 230.0,479.4 230.8,479.8 231.6,479.3 232.4,479.6 233.2,478.8 234.0,480.4 234.8,479.5 235.6,481.0 236.4,480.6 237.2,480.1 237.9,479.9 238.7,480.3 239.5,481.2 240.3,481.5 241.1,480.5 241.9,480.6 242.7,481.7 243.5,481.9 244.3,481.7 245.1,481.5 245.8,482.4 246.6,481.4 247.4,482.1 248.2,482.6 249.0,483.7 249.8,483.3 250.6,483.9 251.4,483.2 252.2,482.9 252.9,483.1 253.7,484.7 254.5,484.3 255.3,483.6 256.1,483.2 256.9,484.3 257.7,484.8 258.5,484.5 259.3,484.3 260.1,485.2 260.9,485.9 261.6,484.7 262.4,484.4 263.2,485.2 264.0,485.5 264.8,486.1 265.6,485.3 266.4,486.7 267.2,486.7 268.0,486.4 268.8,485.9 269.5,487.6 270.3,486.4 271.1,487.5 271.9,486.5 272.7,486.6 273.5,487.8 274.3,487.1 275.1,488.5 275.9,487.7 276.6,487.3 277.4,487.5 278.2,488.0 279.0,488.6 279.8,489.3 280.6,487.8 281.4,488.5 282.2,488.3 283.0,489.9 283.8,488.4 284.5,488.3 285.3,488.5 286.1,489.3 286.9,490.4 287.7,490.5 288.5,490.4 289.3,491.0 290.1,491.0 290.9,489.9 291.7,489.8 292.4,491.4 293.2,491.2 294.0,489.9 294.8,491.3 295.6,490.8 296.4,490.9 297.2,491.0 298.0,490.8 298.8,490.6 299.6,491.2 300.4,491.5 301.1,492.9 301.9,491.3 302.7,493.1 303.5,491.7 304.3,492.2 305.1,493.2 305.9,493.3 306.7,492.7 307.5,492.0 308.2,493.0 309.0,492.9 309.8,494.1 310.6,492.8 311.4,493.3 312.2,494.5 313.0,492.8 313.8,493.7 314.6,494.6 315.4,494.7 316.1,493.3 316.9,493.4 317.7,493.6 318.5,495.5 319.3,494.2 320.1,495.3 320.9,495.8 321.7,494.8 322.5,494.7 323.3,496.2 324.0,495.7 324.8,495.1 325.6,496.1 326.4,495.4 327.2,495.4 328.0,495.0" fill="none" stroke="#a020f0" stroke-width="2.4" stroke-linejoin="round"/>
<polyline points="122.6,452.0 123.4,452.5 124.2,452.1 125.0,452.9 125.8,451.5 126.5,452.0 127.3,452.7 128.1,453.7 128.9,453.9 129.7,453.1 130.5,453.1 131.3,453.6 132.1,453.9 132.9,454.9 133.7,453.7 134.4,455.0 135.2,455.1 136.0,455.5 136.8,455.6 137.6,455.5 138.4,455.2 139.2,455.3 140.0,455.6 140.8,456.5 141.6,455.5 142.3,455.9 143.1,457.1 143.9,456.3 144.7,456.2 145.5,456.3 146.3,457.5 147.1,457.2 147.9,458.6 148.7,458.6 149.5,459.0 150.2,457.9 151.0,457.7 151.8,458.0 152.6,458.9 153.4,459.4 154.2,459.1 155.0,458.9 155.8,459.5 156.6,460.0 157.4,460.3 158.1,460.6 158.9,461.0 159.7,460.8 160.5,460.0 161.3,461.5 162.1,460.7 162.9,461.4 163.7,461.2 164.5,462.0 165.3,461.2 166.1,461.5 166.8,461.7 167.6,461.7 168.4,463.2 169.2,462.8 170.0,462.5 170.8,462.8 171.6,464.1 172.4,463.4 173.2,463.1 173.9,464.3 174.7,464.2 175.5,464.9 176.3,463.5 177.1,464.4 177.9,465.2 178.7,465.4 179.5,465.7 180.3,464.3 181.1,464.9 181.8,464.7 182.6,465.0 183.4,466.6 184.2,466.1 185.0,466.9 185.8,466.0 186.6,467.1 187.4,466.5 188.2,466.3 189.0,467.4 189.8,467.9 190.5,466.6 191.3,467.6 192.1,467.8 192.9,467.3 193.7,467.7 194.5,467.4 195.3,467.7 196.1,468.0 196.9,468.8 197.6,469.0 198.4,468.4 199.2,468.2 200.0,468.9 200.8,469.7 201.6,469.0 202.4,469.4 203.2,469.3 204.0,470.6 204.8,470.3 205.6,469.6 206.3,469.8 207.1,470.5 207.9,470.9 208.7,471.2 209.5,470.4 210.3,470.7 211.1,471.8 211.9,471.4 212.7,471.4 213.4,471.6 214.2,472.9 215.0,471.9 215.8,472.5 216.6,472.3 217.4,472.5 218.2,473.5 219.0,473.9 219.8,472.9 220.6,472.7 221.3,473.8 222.1,473.0 222.9,472.8 223.7,474.6 224.5,473.9 225.3,474.7 226.1,474.2 226.9,475.2 227.7,474.5 228.5,474.2 229.2,474.0 230.0,475.2 230.8,475.5 231.6,476.1 232.4,474.8 233.2,475.9 234.0,475.6 234.8,475.9 235.6,475.4 236.4,475.8 237.2,476.4 237.9,477.3 238.7,475.9 239.5,476.8 240.3,477.5 241.1,477.9 241.9,476.7 242.7,476.7 243.5,478.3 244.3,478.5 245.1,477.8 245.8,477.1 246.6,478.8 247.4,478.0 248.2,479.1 249.0,478.7 249.8,479.2 250.6,478.1 251.4,479.4 252.2,478.5 252.9,479.0 253.7,479.9 254.5,480.0 255.3,479.0 256.1,479.2 256.9,479.7 257.7,480.0 258.5,479.9 259.3,479.6 260.1,479.9 260.9,480.9 261.6,481.4 262.4,480.0 263.2,481.0 264.0,481.5 264.8,480.4 265.6,481.9 266.4,480.8 267.2,481.8 268.0,481.8 268.8,482.1 269.5,481.6 270.3,482.0 271.1,482.4 271.9,482.2 272.7,482.8 273.5,482.5 274.3,482.6 275.1,482.0 275.9,483.2 276.6,483.1 277.4,482.8 278.2,483.9 279.0,484.0 279.8,483.6 280.6,483.2 281.4,483.8 282.2,483.3 283.0,483.5 283.8,484.1 284.5,483.7 285.3,484.4 286.1,484.7 286.9,483.9 287.7,485.1 288.5,484.3 289.3,485.5 290.1,485.8 290.9,485.4 291.7,484.7 292.4,485.6 293.2,485.5 294.0,486.7 294.8,485.3 295.6,486.7 296.4,487.1 297.2,486.8 298.0,487.0 298.8,486.0 299.6,487.6 300.4,486.8 301.1,487.8 301.9,487.8 302.7,486.6 303.5,487.8 304.3,488.2 305.1,486.7 305.9,487.4 306.7,488.2 307.5,487.3 308.2,488.7 309.0,487.7 309.8,488.8 310.6,487.7 311.4,488.5 312.2,489.3 313.0,488.2 313.8,488.4 314.6,488.9 315.4,488.7 316.1,488.3 316.9,488.7 317.7,488.7 318.5,490.3 319.3,489.9 320.1,490.4 320.9,489.2 321.7,490.4 322.5,489.3 323.3,490.2 324.0,490.5 324.8,490.1 325.6,491.1 326.4,490.7 327.2,490.8 328.0,491.5" fill="none" stroke="#000000" stroke-width="2.0" stroke-linejoin="round"/>
<polyline points="122.6,450.4 123.4,452.0 124.2,451.6 125.0,451.4 125.8,452.2 126.5,451.6 127.3,452.9 128.1,452.4 128.9,452.3 129.7,453.1 130.5,452.8 131.3,452.5 132.1,453.6 132.9,452.7 133.7,454.1 134.4,453.4 135.2,454.2 136.0,454.9 136.8,454.4 137.6,454.7 138.4,454.3 139.2,454.0 140.0,454.3 140.8,454.6 141.6,455.5 142.3,455.4 143.1,455.7 143.9,456.5 144.7,455.5 145.5,455.8 146.3,456.7 147.1,455.8 147.9,456.0 148.7,456.7 149.5,456.5 150.2,457.0 151.0,457.0 151.8,457.8 152.6,457.9 153.4,457.5 154.2,458.3 155.0,458.3 155.8,457.9 156.6,459.3 157.4,458.4 158.1,458.4 158.9,458.5 159.7,459.5 160.5,460.1 161.3,460.1 162.1,459.7 162.9,459.6 163.7,459.4 164.5,460.5 165.3,460.6 166.1,460.4 166.8,461.0 167.6,460.9 168.4,461.8 169.2,461.7 170.0,461.1 170.8,462.3 171.6,461.1 172.4,462.0 173.2,462.0 173.9,461.8 174.7,461.7 175.5,463.0 176.3,462.0 177.1,463.0 177.9,463.8 178.7,462.7 179.5,462.9 180.3,463.7 181.1,463.7 181.8,464.1 182.6,464.5 183.4,463.6 184.2,464.0 185.0,464.2 185.8,463.9 186.6,465.4 187.4,465.4 188.2,465.4 189.0,464.5 189.8,466.0 190.5,466.0 191.3,465.7 192.1,466.3 192.9,465.9 193.7,465.7 194.5,465.7 195.3,466.0 196.1,465.9 196.9,466.5 197.6,467.3 198.4,467.4 199.2,467.8 200.0,467.7 200.8,467.1 201.6,467.8 202.4,467.7 203.2,468.4 204.0,468.2 204.8,467.9 205.6,468.6 206.3,469.3 207.1,468.2 207.9,469.5 208.7,468.2 209.5,468.8 210.3,468.9 211.1,469.8 211.9,470.3 212.7,470.1 213.4,469.6 214.2,470.6 215.0,469.9 215.8,469.9 216.6,471.1 217.4,470.8 218.2,471.0 219.0,471.1 219.8,471.8 220.6,471.1 221.3,471.8 222.1,471.7 222.9,472.1 223.7,471.6 224.5,472.2 225.3,472.1 226.1,471.8 226.9,471.8 227.7,472.6 228.5,471.8 229.2,473.3 230.0,472.2 230.8,472.2 231.6,472.4 232.4,473.9 233.2,473.1 234.0,472.9 234.8,472.8 235.6,473.0 236.4,474.2 237.2,474.2 237.9,474.5 238.7,474.7 239.5,473.7 240.3,474.7 241.1,474.5 241.9,475.3 242.7,475.4 243.5,475.7 244.3,474.5 245.1,475.9 245.8,476.1 246.6,476.3 247.4,475.1 248.2,475.4 249.0,475.4 249.8,475.4 250.6,476.8 251.4,476.9 252.2,476.7 252.9,477.1 253.7,477.0 254.5,476.5 255.3,476.4 256.1,476.5 256.9,477.7 257.7,476.9 258.5,477.2 259.3,477.5 260.1,477.0 260.9,477.5 261.6,477.7 262.4,478.5 263.2,478.0 264.0,478.1 264.8,479.2 265.6,478.6 266.4,479.3 267.2,479.1 268.0,478.2 268.8,479.0 269.5,479.1 270.3,479.8 271.1,479.2 271.9,479.9 272.7,479.8 273.5,479.4 274.3,480.5 275.1,479.4 275.9,480.7 276.6,479.8 277.4,479.6 278.2,480.1 279.0,481.1 279.8,481.6 280.6,480.1 281.4,481.0 282.2,481.1 283.0,481.7 283.8,480.9 284.5,481.5 285.3,481.4 286.1,482.3 286.9,481.5 287.7,482.7 288.5,481.7 289.3,481.7 290.1,482.6 290.9,482.4 291.7,481.9 292.4,482.9 293.2,482.1 294.0,483.3 294.8,483.3 295.6,483.6 296.4,483.4 297.2,483.1 298.0,483.3 298.8,483.4 299.6,484.3 300.4,483.1 301.1,484.5 301.9,483.2 302.7,483.6 303.5,483.8 304.3,485.0 305.1,484.4 305.9,484.3 306.7,485.3 307.5,484.3 308.2,484.8 309.0,485.0 309.8,485.5 310.6,485.6 311.4,485.5 312.2,485.2 313.0,485.2 313.8,485.1 314.6,486.3 315.4,486.1 316.1,486.3 316.9,485.5 317.7,486.0 318.5,486.7 319.3,486.5 320.1,485.9 320.9,486.5 321.7,487.3 322.5,486.4 323.3,486.4 324.0,486.7 324.8,487.4 325.6,487.7 326.4,486.7 327.2,486.8 328.0,487.1" fill="none" stroke="#996633" stroke-width="2.0" stroke-linejoin="round"/>
<polyline points="122.6,451.2 123.4,451.7 124.2,451.2 125.0,451.7 125.8,451.6 126.5,453.4 127.3,453.1 128.1,452.0 128.9,453.9 129.7,452.4 130.5,453.2 131.3,454.6 132.1,454.4 132.9,454.4 133.7,454.0 134.4,453.7 135.2,454.8 136.0,453.9 136.8,454.3 137.6,454.8 138.4,454.3 139.2,455.2 140.0,456.2 140.8,456.2 141.6,456.0 142.3,456.4 143.1,456.3 143.9,455.8 144.7,456.9 145.5,456.7 146.3,457.5 147.1,458.1 147.9,457.3 148.7,457.7 149.5,458.3 150.2,457.8 151.0,457.6 151.8,458.7 152.6,459.2 153.4,459.2 154.2,459.2 155.0,459.7 155.8,459.5 156.6,459.6 157.4,459.4 158.1,459.3 158.9,460.1 159.7,459.2 160.5,460.1 161.3,461.0 162.1,461.0 162.9,461.0 163.7,460.4 164.5,460.9 165.3,461.1 166.1,461.7 166.8,461.4 167.6,462.1 168.4,462.8 169.2,461.4 170.0,462.6 170.8,463.0 171.6,462.4 172.4,462.7 173.2,463.9 173.9,462.2 174.7,463.3 175.5,462.7 176.3,464.1 177.1,464.6 177.9,463.9 178.7,463.3 179.5,464.4 180.3,464.5 181.1,465.0 181.8,464.7 182.6,465.1 183.4,465.7 184.2,465.2 185.0,465.2 185.8,466.4 186.6,465.1 187.4,466.2 188.2,465.8 189.0,466.7 189.8,465.5 190.5,467.4 191.3,466.3 192.1,465.9 192.9,466.5 193.7,466.9 194.5,466.3 195.3,467.2 196.1,467.4 196.9,468.1 197.6,467.6 198.4,467.5 199.2,467.6 200.0,468.8 200.8,469.4 201.6,468.7 202.4,468.2 203.2,469.5 204.0,468.9 204.8,468.7 205.6,468.6 206.3,470.1 207.1,470.3 207.9,470.1 208.7,469.9 209.5,470.3 210.3,469.7 211.1,471.4 211.9,470.3 212.7,471.0 213.4,471.5 214.2,471.7 215.0,471.1 215.8,470.9 216.6,471.6 217.4,470.9 218.2,472.4 219.0,471.6 219.8,472.7 220.6,471.7 221.3,472.1 222.1,472.0 222.9,472.5 223.7,472.1 224.5,471.9 225.3,473.5 226.1,472.7 226.9,472.8 227.7,473.1 228.5,473.6 229.2,473.6 230.0,474.2 230.8,474.3 231.6,473.9 232.4,475.2 233.2,475.2 234.0,473.7 234.8,475.4 235.6,475.7 236.4,475.6 237.2,474.4 237.9,475.9 238.7,475.7 239.5,474.6 240.3,474.7 241.1,476.7 241.9,476.3 242.7,475.6 243.5,475.4 244.3,475.6 245.1,476.0 245.8,477.2 246.6,476.5 247.4,476.2 248.2,477.8 249.0,477.7 249.8,476.6 250.6,478.2 251.4,477.8 252.2,478.3 252.9,478.2 253.7,478.7 254.5,478.7 255.3,478.9 256.1,477.7 256.9,478.9 257.7,478.7 258.5,479.2 259.3,478.7 260.1,479.8 260.9,479.2 261.6,478.8 262.4,478.8 263.2,478.8 264.0,479.6 264.8,478.9 265.6,479.8 266.4,479.3 267.2,480.1 268.0,480.3 268.8,480.5 269.5,481.2 270.3,479.6 271.1,481.4 271.9,480.8 272.7,481.1 273.5,481.5 274.3,481.9 275.1,481.1 275.9,481.3 276.6,482.5 277.4,480.9 278.2,482.1 279.0,482.3 279.8,481.2 280.6,482.4 281.4,482.7 282.2,483.3 283.0,482.2 283.8,483.7 284.5,482.8 285.3,482.9 286.1,483.9 286.9,482.3 287.7,483.7 288.5,483.7 289.3,483.2 290.1,484.4 290.9,483.5 291.7,483.8 292.4,484.1 293.2,484.7 294.0,483.7 294.8,484.2 295.6,484.3 296.4,484.7 297.2,485.4 298.0,484.4 298.8,485.6 299.6,484.9 300.4,485.2 301.1,484.8 301.9,485.4 302.7,486.5 303.5,485.9 304.3,486.3 305.1,485.5 305.9,485.6 306.7,485.7 307.5,486.4 308.2,486.6 309.0,487.0 309.8,485.6 310.6,487.1 311.4,487.5 312.2,486.9 313.0,486.1 313.8,486.7 314.6,486.2 315.4,486.7 316.1,488.2 316.9,487.7 317.7,487.9 318.5,488.3 319.3,488.6 320.1,488.2 320.9,488.3 321.7,488.4 322.5,488.6 323.3,488.6 324.0,488.8 324.8,488.0 325.6,489.0 326.4,488.7 327.2,489.4 328.0,488.2" fill="none" stroke="#ff8000" stroke-width="2.4" stroke-linejoin="round"/>
<polyline points="122.6,450.5 123.4,450.4 124.2,451.7 125.0,452.1 125.8,451.8 126.5,451.5 127.3,452.4 128.1,452.5 128.9,452.3 129.7,451.9 130.5,452.2 131.3,452.5 132.1,452.5 132.9,452.8 133.7,453.3 134.4,453.9 135.2,452.7 136.0,453.6 136.8,452.9 137.6,453.2 138.4,454.4 139.2,454.2 140.0,454.9 140.8,454.3 141.6,453.8 142.3,454.5 143.1,455.0 143.9,455.7 144.7,455.9 145.5,455.2 146.3,455.3 147.1,454.9 147.9,455.9 148.7,455.4 149.5,455.4 150.2,455.3 151.0,455.5 151.8,456.7 152.6,455.9 153.4,457.4 154.2,456.2 155.0,457.6 155.8,456.5 156.6,456.5 157.4,457.7 158.1,457.1 158.9,458.1 159.7,457.3 160.5,457.2 161.3,458.5 162.1,458.6 162.9,459.0 163.7,458.9 164.5,458.0 165.3,459.0 166.1,459.3 166.8,459.0 167.6,459.9 168.4,459.0 169.2,460.2 170.0,460.0 170.8,459.0 171.6,459.1 172.4,460.3 173.2,460.7 173.9,459.7 174.7,460.2 175.5,461.0 176.3,460.2 177.1,461.5 177.9,461.0 178.7,460.5 179.5,461.1 180.3,461.6 181.1,461.5 181.8,462.0 182.6,461.3 183.4,462.5 184.2,461.9 185.0,462.5 185.8,462.6 186.6,462.4 187.4,462.5 188.2,463.3 189.0,463.7 189.8,463.5 190.5,463.3 191.3,463.0 192.1,462.8 192.9,464.4 193.7,464.1 194.5,464.4 195.3,463.7 196.1,464.3 196.9,465.0 197.6,464.9 198.4,464.7 199.2,464.4 200.0,464.7 200.8,465.6 201.6,464.9 202.4,465.5 203.2,465.5 204.0,466.1 204.8,466.1 205.6,465.4 206.3,465.1 207.1,465.6 207.9,466.0 208.7,466.4 209.5,466.9 210.3,467.2 211.1,465.9 211.9,467.3 212.7,467.4 213.4,467.6 214.2,467.3 215.0,467.0 215.8,468.0 216.6,468.1 217.4,468.0 218.2,468.5 219.0,467.7 219.8,467.4 220.6,468.3 221.3,468.8 222.1,468.0 222.9,469.0 223.7,469.4 224.5,468.4 225.3,469.2 226.1,469.4 226.9,469.2 227.7,468.9 228.5,469.1 229.2,470.0 230.0,470.2 230.8,469.8 231.6,469.4 232.4,470.6 233.2,470.7 234.0,470.0 234.8,470.7 235.6,471.3 236.4,471.4 237.2,470.9 237.9,471.0 238.7,471.3 239.5,470.8 240.3,470.9 241.1,471.0 241.9,472.0 242.7,471.6 243.5,472.0 244.3,471.9 245.1,472.2 245.8,471.7 246.6,471.7 247.4,473.3 248.2,472.5 249.0,472.2 249.8,473.1 250.6,473.5 251.4,472.6 252.2,473.4 252.9,473.2 253.7,473.6 254.5,472.9 255.3,473.0 256.1,474.7 256.9,474.6 257.7,474.1 258.5,474.4 259.3,474.0 260.1,475.0 260.9,474.5 261.6,475.5 262.4,475.3 263.2,475.5 264.0,475.9 264.8,474.8 265.6,474.6 266.4,475.0 267.2,475.1 268.0,475.1 268.8,475.1 269.5,476.1 270.3,476.7 271.1,476.1 271.9,477.0 272.7,477.1 273.5,475.9 274.3,476.8 275.1,476.6 275.9,476.3 276.6,477.8 277.4,476.8 278.2,477.4 279.0,477.6 279.8,478.2 280.6,477.9 281.4,477.6 282.2,477.8 283.0,477.4 283.8,478.9 284.5,479.0 285.3,477.9 286.1,477.7 286.9,478.2 287.7,478.5 288.5,479.5 289.3,479.6 290.1,479.6 290.9,478.4 291.7,479.7 292.4,479.7 293.2,479.7 294.0,480.4 294.8,479.0 295.6,479.3 296.4,480.4 297.2,480.8 298.0,480.5 298.8,480.0 299.6,480.6 300.4,481.0 301.1,480.0 301.9,480.5 302.7,480.5 303.5,480.4 304.3,481.1 305.1,480.7 305.9,480.9 306.7,480.9 307.5,481.9 308.2,480.9 309.0,482.2 309.8,481.4 310.6,481.3 311.4,482.8 312.2,481.8 313.0,483.1 313.8,483.1 314.6,483.2 315.4,482.1 316.1,482.7 316.9,482.3 317.7,483.7 318.5,483.7 319.3,483.5 320.1,483.3 320.9,483.2 321.7,484.1 322.5,483.7 323.3,484.0 324.0,483.4 324.8,483.6 325.6,483.5 326.4,484.6 327.2,484.5 328.0,483.9" fill="none" stroke="#00008b" stroke-width="2.0" stroke-linejoin="round"/>
<polyline points="122.6,451.7 123.4,450.7 124.2,451.1 125.0,450.8 125.8,451.2 126.5,452.5 127.3,451.6 128.1,451.4 128.9,452.2 129.7,452.1 130.5,453.4 131.3,452.0 132.1,453.8 132.9,452.2 133.7,454.0 134.4,453.7 135.2,452.9 136.0,453.6 136.8,453.4 137.6,453.5 138.4,453.5 139.2,454.0 140.0,455.4 140.8,455.6 141.6,455.6 142.3,454.1 143.1,454.6 143.9,456.0 144.7,454.5 145.5,456.0 146.3,455.2 147.1,456.8 147.9,455.0 148.7,456.7 149.5,456.0 150.2,455.7 151.0,455.6 151.8,457.4 152.6,456.9 153.4,456.4 154.2,457.0 155.0,458.2 155.8,456.9 156.6,457.8 157.4,457.1 158.1,457.3 158.9,458.6 159.7,458.7 160.5,457.8 161.3,457.7 162.1,457.9 162.9,459.0 163.7,459.0 164.5,458.7 165.3,458.7 166.1,459.6 166.8,460.0 167.6,460.3 168.4,460.0 169.2,459.4 170.0,459.3 170.8,460.8 171.6,460.3 172.4,461.0 173.2,459.9 173.9,461.5 174.7,460.7 175.5,461.9 176.3,462.1 177.1,461.5 177.9,460.7 178.7,462.6 179.5,461.9 180.3,462.8 181.1,461.7 181.8,461.7 182.6,463.2 183.4,462.4 184.2,462.1 185.0,462.7 185.8,463.3 186.6,462.2 187.4,463.4 188.2,463.4 189.0,463.7 189.8,463.0 190.5,464.4 191.3,464.7 192.1,465.0 192.9,464.0 193.7,464.9 194.5,464.4 195.3,465.3 196.1,464.1 196.9,465.8 197.6,466.1 198.4,465.4 199.2,465.5 200.0,465.7 200.8,465.9 201.6,465.0 202.4,467.0 203.2,465.7 204.0,465.7 204.8,465.7 205.6,466.1 206.3,467.4 207.1,466.0 207.9,466.2 208.7,467.6 209.5,466.7 210.3,466.5 211.1,467.8 211.9,467.9 212.7,467.9 213.4,468.4 214.2,467.4 215.0,469.0 215.8,468.9 216.6,467.7 217.4,468.0 218.2,468.8 219.0,469.0 219.8,468.7 220.6,468.5 221.3,469.2 222.1,468.8 222.9,469.9 223.7,470.5 224.5,469.2 225.3,470.2 226.1,470.7 226.9,469.7 227.7,471.1 228.5,471.5 229.2,470.5 230.0,470.7 230.8,471.7 231.6,471.2 232.4,471.1 233.2,472.3 234.0,472.1 234.8,471.4 235.6,471.3 236.4,471.6 237.2,472.0 237.9,473.2 238.7,473.0 239.5,473.3 240.3,473.3 241.1,473.5 241.9,472.0 242.7,473.1 243.5,474.1 244.3,474.2 245.1,472.9 245.8,473.4 246.6,474.0 247.4,473.6 248.2,474.0 249.0,473.2 249.8,474.1 250.6,474.4 251.4,473.5 252.2,473.9 252.9,475.7 253.7,475.4 254.5,475.9 255.3,475.4 256.1,475.9 256.9,476.2 257.7,476.3 258.5,474.7 259.3,476.1 260.1,475.4 260.9,476.4 261.6,475.7 262.4,476.4 263.2,477.3 264.0,476.8 264.8,476.2 265.6,476.9 266.4,476.8 267.2,478.0 268.0,476.8 268.8,476.9 269.5,477.8 270.3,476.8 271.1,477.9 271.9,478.7 272.7,478.0 273.5,477.6 274.3,478.2 275.1,478.4 275.9,477.8 276.6,477.8 277.4,478.0 278.2,478.4 279.0,478.8 279.8,478.7 280.6,478.7 281.4,478.5 282.2,479.6 283.0,480.3 283.8,479.9 284.5,480.0 285.3,480.3 286.1,479.5 286.9,480.6 287.7,480.3 288.5,480.6 289.3,480.8 290.1,480.7 290.9,480.5 291.7,480.5 292.4,480.5 293.2,481.2 294.0,481.1 294.8,481.6 295.6,480.6 296.4,481.4 297.2,482.6 298.0,481.4 298.8,482.2 299.6,482.2 300.4,481.9 301.1,483.4 301.9,482.2 302.7,483.2 303.5,482.1 304.3,482.1 305.1,483.8 305.9,483.0 306.7,482.4 307.5,483.2 308.2,483.4 309.0,484.1 309.8,483.0 310.6,483.3 311.4,484.9 312.2,484.6 313.0,483.6 313.8,484.0 314.6,484.2 315.4,485.0 316.1,485.0 316.9,485.5 317.7,485.6 318.5,485.1 319.3,485.7 320.1,485.8 320.9,486.0 321.7,485.5 322.5,486.2 323.3,486.2 324.0,486.7 324.8,485.3 325.6,486.9 326.4,485.3 327.2,486.9 328.0,486.7" fill="none" stroke="#00b000" stroke-width="2.4" stroke-linejoin="round"/>
<polyline points="122.6,450.0 123.4,451.1 124.2,450.4 125.0,450.2 125.8,451.1 126.5,451.4 127.3,451.0 128.1,450.6 128.9,450.9 129.7,451.1 130.5,451.7 131.3,451.0 132.1,451.3 132.9,451.8 133.7,451.5 134.4,451.5 135.2,452.6 136.0,452.9 136.8,452.3 137.6,452.3 138.4,451.9 139.2,452.3 140.0,452.1 140.8,453.1 141.6,453.2 142.3,452.3 143.1,454.1 143.9,453.1 144.7,454.2 145.5,454.4 146.3,454.7 147.1,453.3 147.9,453.9 148.7,455.0 149.5,453.3 150.2,453.5 151.0,454.7 151.8,454.7 152.6,455.7 153.4,455.5 154.2,455.2 155.0,456.2 155.8,455.4 156.6,455.5 157.4,456.0 158.1,455.5 158.9,455.6 159.7,456.2 160.5,455.8 161.3,457.1 162.1,456.7 162.9,456.5 163.7,455.8 164.5,456.5 165.3,456.7 166.1,457.1 166.8,457.3 167.6,458.0 168.4,458.3 169.2,457.5 170.0,457.5 170.8,458.0 171.6,458.9 172.4,457.7 173.2,458.2 173.9,458.9 174.7,457.7 175.5,458.1 176.3,459.6 177.1,459.4 177.9,458.9 178.7,458.2 179.5,459.9 180.3,459.6 181.1,460.0 181.8,460.5 182.6,460.4 183.4,459.6 184.2,459.2 185.0,459.6 185.8,460.2 186.6,460.3 187.4,459.8 188.2,459.9 189.0,460.9 189.8,461.0 190.5,460.6 191.3,462.0 192.1,461.4 192.9,460.4 193.7,461.2 194.5,462.1 195.3,461.3 196.1,462.2 196.9,460.9 197.6,461.7 198.4,462.9 199.2,462.5 200.0,462.8 200.8,462.0 201.6,462.7 202.4,462.9 203.2,462.5 204.0,463.4 204.8,463.3 205.6,464.3 206.3,463.6 207.1,463.4 207.9,463.0 208.7,463.1 209.5,464.5 210.3,463.3 211.1,463.4 211.9,463.7 212.7,464.5 213.4,465.2 214.2,464.9 215.0,465.5 215.8,464.1 216.6,464.1 217.4,465.8 218.2,465.0 219.0,465.9 219.8,465.3 220.6,465.1 221.3,465.4 222.1,465.2 222.9,466.9 223.7,466.4 224.5,466.1 225.3,466.4 226.1,466.4 226.9,465.9 227.7,467.7 228.5,467.2 229.2,468.1 230.0,467.1 230.8,467.6 231.6,467.0 232.4,466.7 233.2,468.6 234.0,468.6 234.8,467.7 235.6,468.9 236.4,468.9 237.2,468.0 237.9,468.7 238.7,469.6 239.5,468.8 240.3,469.8 241.1,468.5 241.9,468.9 242.7,469.7 243.5,468.9 244.3,469.2 245.1,470.4 245.8,469.8 246.6,470.5 247.4,469.5 248.2,469.5 249.0,470.0 249.8,469.8 250.6,471.5 251.4,470.3 252.2,470.9 252.9,470.2 253.7,471.1 254.5,471.0 255.3,471.1 256.1,470.6 256.9,470.8 257.7,472.4 258.5,471.5 259.3,471.4 260.1,471.5 260.9,471.8 261.6,471.8 262.4,471.5 263.2,472.9 264.0,472.4 264.8,472.2 265.6,473.4 266.4,472.3 267.2,472.8 268.0,474.0 268.8,472.7 269.5,473.5 270.3,474.4 271.1,474.5 271.9,473.3 272.7,473.8 273.5,474.7 274.3,474.1 275.1,475.4 275.9,474.0 276.6,475.7 277.4,474.9 278.2,474.5 279.0,475.0 279.8,474.5 280.6,475.8 281.4,475.0 282.2,476.4 283.0,475.9 283.8,475.6 284.5,475.5 285.3,476.4 286.1,475.7 286.9,477.1 287.7,475.8 288.5,476.7 289.3,476.9 290.1,476.4 290.9,477.6 291.7,476.9 292.4,477.6 293.2,477.6 294.0,477.2 294.8,477.4 295.6,477.0 296.4,477.3 297.2,478.8 298.0,477.8 298.8,478.6 299.6,477.6 300.4,478.7 301.1,478.4 301.9,478.8 302.7,478.5 303.5,478.2 304.3,478.8 305.1,478.8 305.9,478.7 306.7,480.0 307.5,479.3 308.2,479.6 309.0,480.8 309.8,480.6 310.6,481.0 311.4,481.1 312.2,479.7 313.0,480.1 313.8,479.8 314.6,481.2 315.4,481.3 316.1,480.8 316.9,481.0 317.7,481.7 318.5,481.9 319.3,481.1 320.1,482.4 320.9,481.6 321.7,482.2 322.5,481.5 323.3,481.5 324.0,483.2 324.8,483.0 325.6,483.0 326.4,481.8 327.2,482.0 328.0,482.3" fill="none" stroke="#ff0000" stroke-width="2.4" stroke-linejoin="round"/>
<polyline points="122.6,449.9 123.4,450.2 124.2,450.4 125.0,449.8 125.8,450.4 126.5,451.2 127.3,450.3 128.1,451.7 128.9,451.3 129.7,451.7 130.5,450.8 131.3,451.3 132.1,451.8 132.9,451.2 133.7,450.6 134.4,452.4 135.2,452.3 136.0,451.4 136.8,451.0 137.6,452.7 138.4,452.3 139.2,451.3 140.0,451.8 140.8,451.6 141.6,453.0 142.3,451.9 143.1,453.4 143.9,453.2 144.7,451.9 145.5,453.2 146.3,452.7 147.1,453.5 147.9,453.7 148.7,452.7 149.5,452.4 150.2,454.2 151.0,453.2 151.8,454.3 152.6,453.9 153.4,454.1 154.2,454.4 155.0,454.0 155.8,453.8 156.6,453.1 157.4,454.4 158.1,454.0 158.9,454.2 159.7,455.1 160.5,453.6 161.3,454.9 162.1,453.6 162.9,455.0 163.7,455.3 164.5,454.3 165.3,454.9 166.1,455.8 166.8,455.3 167.6,455.1 168.4,454.6 169.2,454.3 170.0,455.0 170.8,455.2 171.6,454.9 172.4,455.2 173.2,454.9 173.9,456.1 174.7,456.1 175.5,455.3 176.3,455.4 177.1,456.0 177.9,456.0 178.7,457.0 179.5,455.9 180.3,455.9 181.1,457.2 181.8,455.8 182.6,456.7 183.4,456.3 184.2,457.3 185.0,456.9 185.8,457.4 186.6,456.3 187.4,457.4 188.2,457.3 189.0,457.1 189.8,457.8 190.5,458.0 191.3,456.6 192.1,457.1 192.9,457.3 193.7,457.1 194.5,456.8 195.3,457.4 196.1,457.3 196.9,458.4 197.6,457.9 198.4,457.3 199.2,457.8 200.0,458.2 200.8,458.1 201.6,457.8 202.4,457.7 203.2,457.6 204.0,459.6 204.8,459.2 205.6,458.0 206.3,459.3 207.1,459.9 207.9,459.2 208.7,458.3 209.5,459.2 210.3,459.2 211.1,458.7 211.9,459.5 212.7,458.5 213.4,460.4 214.2,460.0 215.0,460.0 215.8,460.7 216.6,460.2 217.4,459.5 218.2,459.5 219.0,459.4 219.8,459.3 220.6,460.8 221.3,461.0 222.1,460.0 222.9,459.9 223.7,460.9 224.5,461.4 225.3,461.6 226.1,460.2 226.9,461.5 227.7,461.6 228.5,461.5 229.2,460.8 230.0,460.6 230.8,461.9 231.6,461.0 232.4,461.2 233.2,461.6 234.0,461.3 234.8,462.3 235.6,461.2 236.4,460.9 237.2,462.0 237.9,462.2 238.7,462.7 239.5,462.5 240.3,463.0 241.1,463.2 241.9,462.3 242.7,462.4 243.5,461.8 244.3,462.2 245.1,462.8 245.8,461.9 246.6,463.2 247.4,462.2 248.2,462.9 249.0,464.0 249.8,462.3 250.6,462.3 251.4,463.2 252.2,462.7 252.9,463.9 253.7,462.5 254.5,464.3 255.3,464.4 256.1,464.3 256.9,463.7 257.7,463.4 258.5,464.3 259.3,464.1 260.1,463.9 260.9,463.9 261.6,464.1 262.4,464.7 263.2,465.1 264.0,465.3 264.8,463.9 265.6,464.2 266.4,464.6 267.2,464.9 268.0,464.6 268.8,464.3 269.5,464.2 270.3,464.7 271.1,465.1 271.9,466.2 272.7,466.1 273.5,466.1 274.3,466.4 275.1,466.5 275.9,465.9 276.6,466.3 277.4,464.9 278.2,466.2 279.0,466.1 279.8,465.6 280.6,466.2 281.4,467.0 282.2,466.2 283.0,466.6 283.8,466.0 284.5,466.1 285.3,467.3 286.1,465.6 286.9,466.0 287.7,467.1 288.5,466.7 289.3,466.1 290.1,467.3 290.9,466.8 291.7,467.3 292.4,467.0 293.2,467.3 294.0,467.5 294.8,467.2 295.6,466.7 296.4,466.9 297.2,468.4 298.0,467.8 298.8,467.0 299.6,468.6 300.4,467.4 301.1,467.2 301.9,468.1 302.7,467.6 303.5,468.2 304.3,468.4 305.1,467.8 305.9,468.6 306.7,467.7 307.5,468.6 308.2,468.8 309.0,467.9 309.8,468.6 310.6,468.0 311.4,468.8 312.2,469.8 313.0,469.2 313.8,469.6 314.6,469.8 315.4,468.6 316.1,470.4 316.9,469.9 317.7,468.8 318.5,470.3 319.3,469.5 320.1,469.1 320.9,470.8 321.7,470.0 322.5,470.5 323.3,469.3 324.0,470.7 324.8,469.3 325.6,469.8 326.4,470.1 327.2,469.5 328.0,470.7" fill="none" stroke="#0000ff" stroke-width="2.4" stroke-linejoin="round"/>
<line x1="238" y1="512.5" x2="328" y2="556" stroke="#ffee22" stroke-width="1"/>
<line x1="375.2" y1="381.6" x2="392.2" y2="381.6" stroke="#3a3aff" stroke-width="1.5"/>
<circle cx="383.7" cy="381.6" r="0.9" fill="#3a3aff"/>
<text x="402" y="386.5" font-size="11" font-family="'Liberation Sans', sans-serif" font-weight="bold" fill="#111" text-anchor="start">RhoA(2µM)</text>
<line x1="375.2" y1="399.0" x2="392.2" y2="399.0" stroke="#ff6060" stroke-width="1.5"/>
<circle cx="383.7" cy="399.0" r="0.9" fill="#ff6060"/>
<text x="402" y="403.7" font-size="11" font-family="'Liberation Sans', sans-serif" font-weight="bold" fill="#111" text-anchor="start">xWGEF330(5µM)</text>
<line x1="375.6" y1="417.4" x2="392.6" y2="417.4" stroke="#33cc33" stroke-width="1.5"/>
<circle cx="384.1" cy="417.4" r="0.9" fill="#33cc33"/>
<text x="402.8" y="423" font-size="11" font-family="'Liberation Sans', sans-serif" font-weight="bold" fill="#111" text-anchor="start">with Dvl2<tspan font-size="8.3" dy="-4.6">PDZ</tspan><tspan dy="4.6"> (25µM)</tspan></text>
<line x1="376.0" y1="435.7" x2="393.0" y2="435.7" stroke="#aa33ff" stroke-width="1.5"/>
<circle cx="384.5" cy="435.7" r="0.9" fill="#aa33ff"/>
<text x="404" y="440.3" font-size="11" font-family="'Liberation Sans', sans-serif" font-weight="bold" fill="#111" text-anchor="start">with Dvl2<tspan font-size="8.3" dy="-4.6">PDZ</tspan><tspan dy="4.6"> (50µM)</tspan></text>
<line x1="376.6" y1="454.3" x2="393.6" y2="454.3" stroke="#ff9933" stroke-width="1.5"/>
<circle cx="385.1" cy="454.3" r="0.9" fill="#ff9933"/>
<text x="403.6" y="458.8" font-size="11" font-family="'Liberation Sans', sans-serif" font-weight="bold" fill="#111" text-anchor="start">with Dvl2<tspan font-size="8.3" dy="-4.6">PDZ</tspan><tspan dy="4.6"> (50µM)</tspan></text>
<text x="403.6" y="474.5" font-size="11" font-family="'Liberation Sans', sans-serif" font-weight="bold" fill="#111" text-anchor="start">+WGEF<tspan font-size="8.3" dy="-4.6">pep</tspan><tspan dy="4.6">(200µM)</tspan></text>
<line x1="376.6" y1="485.5" x2="393.6" y2="485.5" stroke="#555555" stroke-width="1.5"/>
<circle cx="385.1" cy="485.5" r="0.9" fill="#555555"/>
<text x="403.6" y="489.7" font-size="11" font-family="'Liberation Sans', sans-serif" font-weight="bold" fill="#111" text-anchor="start">with Dvl2<tspan font-size="8.3" dy="-4.6">PDZ</tspan></text>
<text x="403.6" y="506.2" font-size="11" font-family="'Liberation Sans', sans-serif" font-weight="bold" fill="#111" text-anchor="start">(50µM)+WGEF<tspan font-size="8.3" dy="-4.6">pep<tspan font-style="italic">D9A</tspan></tspan><tspan dy="4.6">(200µM)</tspan></text>
<line x1="377.0" y1="521.2" x2="394.0" y2="521.2" stroke="#996633" stroke-width="1.5"/>
<circle cx="385.5" cy="521.2" r="0.9" fill="#996633"/>
<text x="405.5" y="526.4" font-size="11" font-family="'Liberation Sans', sans-serif" font-weight="bold" fill="#111" text-anchor="start">xWGEF330<tspan font-size="8.3" dy="-4.6">L407A</tspan><tspan dy="4.6">(5µM)</tspan></text>
<line x1="377.4" y1="542.6" x2="394.4" y2="542.6" stroke="#3333aa" stroke-width="1.5"/>
<circle cx="385.9" cy="542.6" r="0.9" fill="#3333aa"/>
<text x="406" y="547" font-size="11" font-family="'Liberation Sans', sans-serif" font-weight="bold" fill="#111" text-anchor="start">xWGEF330<tspan font-size="8.3" dy="-4.6">L407A</tspan></text>
<text x="406" y="562.7" font-size="11" font-family="'Liberation Sans', sans-serif" font-weight="bold" fill="#111" text-anchor="start">+ (5µM)+Dvl2<tspan font-size="8.3" dy="-4.6">PDZ</tspan><tspan dy="4.6"> (50µM)</tspan></text>
<line x1="378.0" y1="573.8" x2="395.0" y2="573.8" stroke="#ffff33" stroke-width="1.5"/>
<circle cx="386.5" cy="573.8" r="0.9" fill="#ffff33"/>
<text x="407.6" y="579.2" font-size="11" font-family="'Liberation Sans', sans-serif" font-weight="bold" fill="#111" text-anchor="start">xWGEF330<tspan font-size="8.3" dy="-4.6">Y353E</tspan><tspan dy="4.6">(5µM)</tspan></text>
<line x1="378.0" y1="593.5" x2="395.0" y2="593.5" stroke="#ff66dd" stroke-width="1.5"/>
<circle cx="386.5" cy="593.5" r="0.9" fill="#ff66dd"/>
<text x="407.6" y="597.3" font-size="11" font-family="'Liberation Sans', sans-serif" font-weight="bold" fill="#111" text-anchor="start">xWGEF330<tspan font-size="8.3" dy="-4.6">Y353E</tspan><tspan dy="4.6">(5µM) +Dvl2</tspan><tspan font-size="8.3" dy="-4.6">PDZ</tspan></text>
<text x="407.6" y="611.9" font-size="11" font-family="'Liberation Sans', sans-serif" font-weight="bold" fill="#111" text-anchor="start">(50µM)</text>
<path d="M123.3,697.8 L123.3,873.7 L387.6,873.7" fill="none" stroke="#000" stroke-width="2"/>
<line x1="116" y1="873.7" x2="123.3" y2="873.7" stroke="#000" stroke-width="1.8"/>
<text x="114.6" y="878.4000000000001" font-size="13" font-family="'Liberation Sans', sans-serif" font-weight="bold" fill="#000" text-anchor="end">0</text>
<line x1="116" y1="838.5" x2="123.3" y2="838.5" stroke="#000" stroke-width="1.8"/>
<text x="114.6" y="843.2200000000001" font-size="13" font-family="'Liberation Sans', sans-serif" font-weight="bold" fill="#000" text-anchor="end">1</text>
<line x1="116" y1="803.3" x2="123.3" y2="803.3" stroke="#000" stroke-width="1.8"/>
<text x="114.6" y="808.0400000000001" font-size="13" font-family="'Liberation Sans', sans-serif" font-weight="bold" fill="#000" text-anchor="end">2</text>
<line x1="116" y1="768.2" x2="123.3" y2="768.2" stroke="#000" stroke-width="1.8"/>
<text x="114.6" y="772.8600000000001" font-size="13" font-family="'Liberation Sans', sans-serif" font-weight="bold" fill="#000" text-anchor="end">3</text>
<line x1="116" y1="733.0" x2="123.3" y2="733.0" stroke="#000" stroke-width="1.8"/>
<text x="114.6" y="737.6800000000001" font-size="13" font-family="'Liberation Sans', sans-serif" font-weight="bold" fill="#000" text-anchor="end">4</text>
<line x1="116" y1="697.8" x2="123.3" y2="697.8" stroke="#000" stroke-width="1.8"/>
<text x="114.6" y="702.5000000000001" font-size="13" font-family="'Liberation Sans', sans-serif" font-weight="bold" fill="#000" text-anchor="end">5</text>
<line x1="141.8" y1="873.7" x2="141.8" y2="880.5" stroke="#000" stroke-width="1.8"/>
<line x1="170.0" y1="873.7" x2="170.0" y2="880.5" stroke="#000" stroke-width="1.8"/>
<line x1="198.2" y1="873.7" x2="198.2" y2="880.5" stroke="#000" stroke-width="1.8"/>
<line x1="226.4" y1="873.7" x2="226.4" y2="880.5" stroke="#000" stroke-width="1.8"/>
<line x1="254.6" y1="873.7" x2="254.6" y2="880.5" stroke="#000" stroke-width="1.8"/>
<line x1="282.8" y1="873.7" x2="282.8" y2="880.5" stroke="#000" stroke-width="1.8"/>
<line x1="311.0" y1="873.7" x2="311.0" y2="880.5" stroke="#000" stroke-width="1.8"/>
<line x1="339.2" y1="873.7" x2="339.2" y2="880.5" stroke="#000" stroke-width="1.8"/>
<line x1="367.4" y1="873.7" x2="367.4" y2="880.5" stroke="#000" stroke-width="1.8"/>
<text transform="translate(97.4,785.3) rotate(-90)" x="0" y="0" font-size="14" font-family="'Liberation Sans', sans-serif" font-weight="bold" text-anchor="middle" textLength="90.8" lengthAdjust="spacingAndGlyphs">Fold increase</text>
<path d="M134.1,873.7 L134.1,839.5 L149.5,839.5 L149.5,873.7" fill="none" stroke="#ff0000" stroke-width="2.9"/>
<path d="M162.3,873.7 L162.3,837.2 L177.7,837.2 L177.7,873.7" fill="none" stroke="#1f8a1f" stroke-width="2.9"/>
<path d="M190.5,873.7 L190.5,743.7 L205.9,743.7 L205.9,873.7" fill="none" stroke="#a51ee8" stroke-width="2.9"/>
<path d="M218.7,873.7 L218.7,832.6 L234.1,832.6 L234.1,873.7" fill="none" stroke="#ff6a10" stroke-width="2.9"/>
<path d="M246.9,873.7 L246.9,793.2 L262.3,793.2 L262.3,873.7" fill="none" stroke="#000000" stroke-width="2.9"/>
<path d="M275.1,873.7 L275.1,719.2 L290.5,719.2 L290.5,873.7" fill="none" stroke="#a0692a" stroke-width="2.9"/>
<path d="M303.3,873.7 L303.3,736.2 L318.7,736.2 L318.7,873.7" fill="none" stroke="#0a0a90" stroke-width="2.9"/>
<path d="M331.5,873.7 L331.5,778.1 L346.9,778.1 L346.9,873.7" fill="none" stroke="#ffff00" stroke-width="2.9"/>
<path d="M359.7,873.7 L359.7,798.7 L375.1,798.7 L375.1,873.7" fill="none" stroke="#f0689a" stroke-width="2.9"/>
<path d="M140,683.2 L140,672.7 L339.3,672.7 L339.3,760.5" fill="none" stroke="#000" stroke-width="2"/>
<path d="M140,695.7 L140,685.6 L281.1,685.6 L281.1,696.2" fill="none" stroke="#000" stroke-width="2"/>
<path d="M140,832 L140,703.7 L194.1,703.7 L194.1,717" fill="none" stroke="#000" stroke-width="2"/>
<path d="M197.9,717 L197.9,703.7 L223.5,703.7 L223.5,810.5" fill="none" stroke="#000" stroke-width="2"/>
<path d="M227.6,810.5 L227.6,764.5 L254.3,764.5 L254.3,776.5" fill="none" stroke="#000" stroke-width="2"/>
<path d="M284.2,705.7 L284.2,685.8 L312.5,685.8 L312.5,712.8" fill="none" stroke="#000" stroke-width="2"/>
<path d="M343.4,759.9 L343.4,753.3 L367.4,753.3 L367.4,771.1" fill="none" stroke="#000" stroke-width="2"/>
<polygon points="203.00,664.80 203.76,666.75 205.85,666.87 204.24,668.20 204.76,670.23 203.00,669.10 201.24,670.23 201.76,668.20 200.15,666.87 202.24,666.75" fill="#111"/>
<polygon points="208.60,664.80 209.36,666.75 211.45,666.87 209.84,668.20 210.36,670.23 208.60,669.10 206.84,670.23 207.36,668.20 205.75,666.87 207.84,666.75" fill="#111"/>
<polygon points="214.20,664.80 214.96,666.75 217.05,666.87 215.44,668.20 215.96,670.23 214.20,669.10 212.44,670.23 212.96,668.20 211.35,666.87 213.44,666.75" fill="#111"/>
<polygon points="219.80,664.80 220.56,666.75 222.65,666.87 221.04,668.20 221.56,670.23 219.80,669.10 218.04,670.23 218.56,668.20 216.95,666.87 219.04,666.75" fill="#111"/>
<polygon points="201.80,680.30 202.56,682.25 204.65,682.37 203.04,683.70 203.56,685.73 201.80,684.60 200.04,685.73 200.56,683.70 198.95,682.37 201.04,682.25" fill="#111"/>
<polygon points="207.40,680.30 208.16,682.25 210.25,682.37 208.64,683.70 209.16,685.73 207.40,684.60 205.64,685.73 206.16,683.70 204.55,682.37 206.64,682.25" fill="#111"/>
<polygon points="213.00,680.30 213.76,682.25 215.85,682.37 214.24,683.70 214.76,685.73 213.00,684.60 211.24,685.73 211.76,683.70 210.15,682.37 212.24,682.25" fill="#111"/>
<polygon points="218.60,680.30 219.36,682.25 221.45,682.37 219.84,683.70 220.36,685.73 218.60,684.60 216.84,685.73 217.36,683.70 215.75,682.37 217.84,682.25" fill="#111"/>
<polygon points="158.40,697.70 159.16,699.65 161.25,699.77 159.64,701.10 160.16,703.13 158.40,702.00 156.64,703.13 157.16,701.10 155.55,699.77 157.64,699.65" fill="#111"/>
<polygon points="164.00,697.70 164.76,699.65 166.85,699.77 165.24,701.10 165.76,703.13 164.00,702.00 162.24,703.13 162.76,701.10 161.15,699.77 163.24,699.65" fill="#111"/>
<polygon points="169.60,697.70 170.36,699.65 172.45,699.77 170.84,701.10 171.36,703.13 169.60,702.00 167.84,703.13 168.36,701.10 166.75,699.77 168.84,699.65" fill="#111"/>
<polygon points="175.20,697.70 175.96,699.65 178.05,699.77 176.44,701.10 176.96,703.13 175.20,702.00 173.44,703.13 173.96,701.10 172.35,699.77 174.44,699.65" fill="#111"/>
<polygon points="202.20,697.70 202.96,699.65 205.05,699.77 203.44,701.10 203.96,703.13 202.20,702.00 200.44,703.13 200.96,701.10 199.35,699.77 201.44,699.65" fill="#111"/>
<polygon points="207.80,697.70 208.56,699.65 210.65,699.77 209.04,701.10 209.56,703.13 207.80,702.00 206.04,703.13 206.56,701.10 204.95,699.77 207.04,699.65" fill="#111"/>
<polygon points="213.40,697.70 214.16,699.65 216.25,699.77 214.64,701.10 215.16,703.13 213.40,702.00 211.64,703.13 212.16,701.10 210.55,699.77 212.64,699.65" fill="#111"/>
<polygon points="219.00,697.70 219.76,699.65 221.85,699.77 220.24,701.10 220.76,703.13 219.00,702.00 217.24,703.13 217.76,701.10 216.15,699.77 218.24,699.65" fill="#111"/>
<polygon points="240.80,758.50 241.56,760.45 243.65,760.57 242.04,761.90 242.56,763.93 240.80,762.80 239.04,763.93 239.56,761.90 237.95,760.57 240.04,760.45" fill="#111"/>
<text x="297.2" y="684" font-size="9.8" font-family="'Liberation Sans', sans-serif" font-weight="normal" fill="#000" text-anchor="middle" stroke="#000" stroke-width="0.25">ns</text>
<text x="358.7" y="750.8" font-size="9.8" font-family="'Liberation Sans', sans-serif" font-weight="normal" fill="#000" text-anchor="middle" stroke="#000" stroke-width="0.25">ns</text>
<path d="M165.8,829.5 L174.8,829.5 M170.3,829.5 L170.3,841 M165.8,841 L174.8,841" stroke="#1f8a1f" stroke-width="1.5" fill="none"/>
<path d="M193.9,721.4 L202.9,721.4 M198.4,721.4 L198.4,762 M193.9,762 L202.9,762" stroke="#a51ee8" stroke-width="1.5" fill="none"/>
<path d="M221.4,819.5 L231.4,819.5 M226.4,819.5 L226.4,842.2 M221.4,842.2 L231.4,842.2" stroke="#ff6a10" stroke-width="1.5" fill="none"/>
<path d="M249.7,784 L259.7,784 M254.7,784 L254.7,799.3 M249.7,799.3 L259.7,799.3" stroke="#000" stroke-width="1.5" fill="none"/>
<path d="M278.3,708.6 L287.3,708.6 M282.8,708.6 L282.8,726 M278.3,726 L287.3,726" stroke="#a0692a" stroke-width="1.5" fill="none"/>
<path d="M306.4,718 L315.4,718 M310.9,718 L310.9,750 M306.4,750 L315.4,750" stroke="#4a4ac8" stroke-width="1.5" fill="none"/>
<path d="M335.3,766.1 L343.7,766.1 M339.5,766.1 L339.5,787.2 M335.3,787.2 L343.7,787.2" stroke="#ffff00" stroke-width="1.5" fill="none"/>
<path d="M362.9,778.3 L371.9,778.3 M367.4,778.3 L367.4,818 M362.9,818 L371.9,818" stroke="#f0689a" stroke-width="1.5" fill="none"/>
<circle cx="135.4" cy="839.5" r="3.6" fill="#000"/>
<circle cx="139.9" cy="835.7" r="3.6" fill="#000"/>
<circle cx="143.7" cy="839" r="3.6" fill="#000"/>
<circle cx="147.8" cy="837.4" r="3.6" fill="#000"/>
<rect x="166.8" y="827.3" width="13" height="6.6" fill="#000"/>
<rect x="161" y="838.6" width="6.8" height="6.6" fill="#000"/>
<rect x="172.6" y="835.3" width="7.1" height="6.5" fill="#000"/>
<polygon points="198.4,714.8 202.20000000000002,721.8 194.6,721.8" fill="#000" stroke="none" stroke-width="0" stroke-linejoin="miter"/>
<polygon points="198.4,729.2 202.20000000000002,736.2 194.6,736.2" fill="#000" stroke="none" stroke-width="0" stroke-linejoin="miter"/>
<polygon points="198.4,749.5 202.20000000000002,756.5 194.6,756.5" fill="#000" stroke="none" stroke-width="0" stroke-linejoin="miter"/>
<polygon points="198.4,759.2 202.20000000000002,766.2 194.6,766.2" fill="#000" stroke="none" stroke-width="0" stroke-linejoin="miter"/>
<polygon points="217.1,816.5 224.29999999999998,816.5 220.7,822.5" fill="#000" stroke="none" stroke-width="0"/>
<polygon points="223.20000000000002,818.2 230.4,818.2 226.8,824.2" fill="#000" stroke="none" stroke-width="0"/>
<polygon points="217.1,837.6 224.29999999999998,837.6 220.7,843.6" fill="#000" stroke="none" stroke-width="0"/>
<polygon points="228.70000000000002,836.7 235.9,836.7 232.3,842.7" fill="#000" stroke="none" stroke-width="0"/>
<polygon points="254.7,779.5 258.8,783.6 254.7,787.7 250.6,783.6" fill="#000"/>
<polygon points="249.3,793.6999999999999 253.4,797.8 249.3,801.9 245.20000000000002,797.8" fill="#000"/>
<polygon points="261,788.6 265.1,792.7 261,796.8000000000001 256.9,792.7" fill="#000"/>
<circle cx="276.6" cy="711.7" r="3.4" fill="none" stroke="#000" stroke-width="1.7"/>
<circle cx="288.6" cy="712.5" r="3.4" fill="none" stroke="#000" stroke-width="1.7"/>
<circle cx="282.8" cy="727.7" r="3.4" fill="none" stroke="#000" stroke-width="1.7"/>
<rect x="307.5" y="717.1" width="6.8" height="6.8" fill="none" stroke="#000" stroke-width="1.7"/>
<rect x="307.5" y="728.8" width="6.8" height="6.8" fill="none" stroke="#000" stroke-width="1.7"/>
<rect x="307.5" y="745.6" width="6.8" height="6.8" fill="none" stroke="#000" stroke-width="1.7"/>
<polygon points="333.3,764.6 336.90000000000003,771.4 329.7,771.4" fill="none" stroke="#000" stroke-width="1.6" stroke-linejoin="miter"/>
<polygon points="345.1,770 348.70000000000005,776.4 341.5,776.4" fill="none" stroke="#000" stroke-width="1.6" stroke-linejoin="miter"/>
<polygon points="339.1,784.9 342.70000000000005,791.9 335.5,791.9" fill="none" stroke="#000" stroke-width="1.6" stroke-linejoin="miter"/>
<polygon points="369.5,780.6 376.9,780.6 373.2,786.8" fill="none" stroke="#000" stroke-width="1.6"/>
<polygon points="363.5,786.4 370.9,786.4 367.2,792.8" fill="none" stroke="#000" stroke-width="1.6"/>
<polygon points="363.7,815.3 371.09999999999997,815.3 367.4,821.8" fill="none" stroke="#000" stroke-width="1.6"/>
<text transform="translate(146.0,895.0) rotate(-45)" x="0" y="0" font-size="13.4" font-family="'Liberation Sans', sans-serif" font-weight="bold" text-anchor="end">xWGEF330</text>
<text transform="translate(174.3,893.0) rotate(-45)" x="0" y="0" font-size="13.4" font-family="'Liberation Sans', sans-serif" font-weight="bold" text-anchor="end">Dvl2<tspan font-size="9.4" font-weight="normal" dx="0.6" dy="-6">PDZ</tspan><tspan dy="6">_25µM</tspan></text>
<text transform="translate(202.5,893.0) rotate(-45)" x="0" y="0" font-size="13.4" font-family="'Liberation Sans', sans-serif" font-weight="bold" text-anchor="end">Dvl2<tspan font-size="9.4" font-weight="normal" dx="0.6" dy="-6">PDZ</tspan><tspan dy="6">_50µM</tspan></text>
<text transform="translate(229.5,892.5) rotate(-45)" x="0" y="0" font-size="13.4" font-family="'Liberation Sans', sans-serif" font-weight="bold" text-anchor="end">WGEF<tspan font-size="9.4" font-weight="normal" dx="0.6" dy="-6">pep</tspan></text>
<text transform="translate(257.5,890.5) rotate(-45)" x="0" y="0" font-size="13.4" font-family="'Liberation Sans', sans-serif" font-weight="bold" text-anchor="end">WGEF<tspan font-size="9.4" font-weight="normal" dx="0.6" dy="-6">pep<tspan font-style="italic">D9A</tspan></tspan></text>
<text transform="translate(285.5,891.5) rotate(-45)" x="0" y="0" font-size="13.4" font-family="'Liberation Sans', sans-serif" font-weight="bold" text-anchor="end">xWGEF330<tspan font-size="9.4" font-weight="normal" dx="0.6" dy="-6">L407A</tspan></text>
<text transform="translate(314.0,894.0) rotate(-45)" x="0" y="0" font-size="13.4" font-family="'Liberation Sans', sans-serif" font-weight="bold" text-anchor="end">xWGEF330<tspan font-size="9.4" font-weight="normal" dx="0.6" dy="-6">L407A</tspan><tspan dy="6">+Dvl2</tspan><tspan font-size="9.4" font-weight="normal" dx="0.6" dy="-6">PDZ</tspan></text>
<text transform="translate(341.5,893.5) rotate(-45)" x="0" y="0" font-size="13.4" font-family="'Liberation Sans', sans-serif" font-weight="bold" text-anchor="end">xWGEF330 <tspan font-size="9.4" font-weight="normal" dx="0.6" dy="-6">Y353E</tspan></text>
<text transform="translate(370.5,893.0) rotate(-45)" x="0" y="0" font-size="13.4" font-family="'Liberation Sans', sans-serif" font-weight="bold" text-anchor="end">xWGEF330<tspan font-size="9.4" font-weight="normal" dx="0.6" dy="-6">Y353E</tspan><tspan dy="6">+Dvl2</tspan><tspan font-size="9.4" font-weight="normal" dx="0.6" dy="-6">PDZ</tspan></text>
<text x="443.5" y="746.4" font-size="11.3" font-family="'Liberation Serif', serif" font-weight="bold" fill="#ee1111" text-anchor="start" textLength="39.2" lengthAdjust="spacingAndGlyphs">Position</text>
<text x="531.2" y="749.4" font-size="12" font-family="'Liberation Serif', serif" font-weight="bold" font-style="italic" fill="#ee1111">P<tspan font-size="7.5" font-style="normal" dy="2.2">-8</tspan></text>
<text x="546.8" y="749.4" font-size="12" font-family="'Liberation Serif', serif" font-weight="bold" font-style="italic" fill="#ee1111">P<tspan font-size="7.5" font-style="normal" dy="2.2">-7</tspan></text>
<text x="566.7" y="749.4" font-size="12" font-family="'Liberation Serif', serif" font-weight="bold" font-style="italic" fill="#ee1111">P<tspan font-size="7.5" font-style="normal" dy="2.2">-6</tspan></text>
<text x="582" y="749.4" font-size="12" font-family="'Liberation Serif', serif" font-weight="bold" font-style="italic" fill="#ee1111">P<tspan font-size="7.5" font-style="normal" dy="2.2">-5</tspan></text>
<text x="599" y="749.4" font-size="12" font-family="'Liberation Serif', serif" font-weight="bold" font-style="italic" fill="#ee1111">P<tspan font-size="7.5" font-style="normal" dy="2.2">-4</tspan></text>
<text x="615" y="749.4" font-size="12" font-family="'Liberation Serif', serif" font-weight="bold" font-style="italic" fill="#ee1111">P<tspan font-size="7.5" font-style="normal" dy="2.2">-3</tspan></text>
<text x="630.5" y="749.4" font-size="12" font-family="'Liberation Serif', serif" font-weight="bold" font-style="italic" fill="#ee1111">P<tspan font-size="7.5" font-style="normal" dy="2.2">-2</tspan></text>
<text x="647" y="749.4" font-size="12" font-family="'Liberation Serif', serif" font-weight="bold" font-style="italic" fill="#ee1111">P<tspan font-size="7.5" font-style="normal" dy="2.2">-1</tspan></text>
<text x="664" y="749.4" font-size="12" font-family="'Liberation Serif', serif" font-weight="bold" font-style="italic" fill="#ee1111">P<tspan font-size="7.5" font-style="normal" dy="2.2">0</tspan></text>
<text x="679.6" y="749.4" font-size="12" font-family="'Liberation Serif', serif" font-weight="bold" font-style="italic" fill="#ee1111">P<tspan font-size="7.5" font-style="normal" dy="2.2">1</tspan></text>
<text x="696" y="749.4" font-size="12" font-family="'Liberation Serif', serif" font-weight="bold" font-style="italic" fill="#ee1111">P<tspan font-size="7.5" font-style="normal" dy="2.2">2</tspan></text>
<text transform="translate(442.5,775.8) scale(1,0.915)" x="0" y="0" font-size="27" font-family="'Liberation Mono', monospace" font-weight="bold" fill="#262626" text-anchor="start">N1</text>
<text transform="translate(531.4,775.8) scale(1,0.915)" x="0" y="0" font-size="27" font-family="'Liberation Mono', monospace" font-weight="bold" fill="#262626" text-anchor="start" xml:space="preserve"> WKDYGWIDGK</text>
<rect x="532.4" y="767.2" width="11.2" height="2.9" fill="#262626"/>
<text transform="translate(442.5,809.3) scale(1,0.915)" x="0" y="0" font-size="27" font-family="'Liberation Mono', monospace" font-weight="bold" fill="#262626" text-anchor="start">N2</text>
<text transform="translate(531.4,809.3) scale(1,0.915)" x="0" y="0" font-size="27" font-family="'Liberation Mono', monospace" font-weight="bold" fill="#262626" text-anchor="start" xml:space="preserve"> SGNEVWIDGP</text>
<rect x="532.4" y="800.7" width="11.2" height="2.9" fill="#262626"/>
<text transform="translate(442.5,842.7) scale(1,0.915)" x="0" y="0" font-size="27" font-family="'Liberation Mono', monospace" font-weight="bold" fill="#262626" text-anchor="start">N3</text>
<text transform="translate(531.4,842.7) scale(1,0.915)" x="0" y="0" font-size="27" font-family="'Liberation Mono', monospace" font-weight="bold" fill="#262626" text-anchor="start" xml:space="preserve">  EIVLWSDIP</text>
<rect x="532.4" y="834.1" width="11.2" height="2.9" fill="#262626"/>
<rect x="548.6" y="834.1" width="11.2" height="2.9" fill="#262626"/>
<text transform="translate(442.5,876.9) scale(1,0.915)" x="0" y="0" font-size="27" font-family="'Liberation Mono', monospace" font-weight="bold" fill="#262626" text-anchor="start">WGEF</text>
<text transform="translate(531.4,876.9) scale(1,0.915)" x="0" y="0" font-size="27" font-family="'Liberation Mono', monospace" font-weight="bold" fill="#262626" text-anchor="start" xml:space="preserve">GSTFSLWQDIP</text>
<path d="M636.50,897.40 L636.50,891.80 M636.50,897.40 L641.83,895.67 M636.50,897.40 L639.79,901.93 M636.50,897.40 L633.21,901.93 M636.50,897.40 L631.17,895.67 " stroke="#222" stroke-width="2.8" stroke-linecap="round" fill="none"/>
<path d="M669.00,897.40 L669.00,891.80 M669.00,897.40 L674.33,895.67 M669.00,897.40 L672.29,901.93 M669.00,897.40 L665.71,901.93 M669.00,897.40 L663.67,895.67 " stroke="#222" stroke-width="2.8" stroke-linecap="round" fill="none"/>
</svg></body></html>
